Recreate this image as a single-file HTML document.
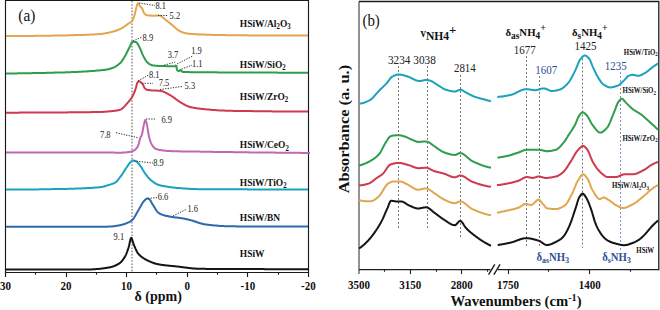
<!DOCTYPE html>
<html><head><meta charset="utf-8"><style>
html,body{margin:0;padding:0;background:#fff;width:660px;height:310px;overflow:hidden}
svg{display:block}
</style></head><body>
<svg width="660" height="310" viewBox="0 0 660 310">
<path d="M5.5 0.5 H308.5 V272.5 H5.5 Z" fill="none" stroke="#1a1a1a" stroke-width="1.15"/>
<line x1="5.5" y1="272.5" x2="5.5" y2="277.0" stroke="#1a1a1a" stroke-width="1.15"/>
<line x1="35.5" y1="272.5" x2="35.5" y2="274.7" stroke="#1a1a1a" stroke-width="1.15"/>
<line x1="66.5" y1="272.5" x2="66.5" y2="277.0" stroke="#1a1a1a" stroke-width="1.15"/>
<line x1="96.5" y1="272.5" x2="96.5" y2="274.7" stroke="#1a1a1a" stroke-width="1.15"/>
<line x1="126.5" y1="272.5" x2="126.5" y2="277.0" stroke="#1a1a1a" stroke-width="1.15"/>
<line x1="156.5" y1="272.5" x2="156.5" y2="274.7" stroke="#1a1a1a" stroke-width="1.15"/>
<line x1="187.5" y1="272.5" x2="187.5" y2="277.0" stroke="#1a1a1a" stroke-width="1.15"/>
<line x1="217.5" y1="272.5" x2="217.5" y2="274.7" stroke="#1a1a1a" stroke-width="1.15"/>
<line x1="247.5" y1="272.5" x2="247.5" y2="277.0" stroke="#1a1a1a" stroke-width="1.15"/>
<line x1="278.5" y1="272.5" x2="278.5" y2="274.7" stroke="#1a1a1a" stroke-width="1.15"/>
<line x1="308.5" y1="272.5" x2="308.5" y2="277.0" stroke="#1a1a1a" stroke-width="1.15"/>
<line x1="132.0" y1="1" x2="132.0" y2="272" stroke="#666" stroke-width="1.1" stroke-dasharray="1.6 1.6"/>
<path d="M6.0 36.0 L6.5 36.0 L7.0 36.0 L7.5 36.0 L8.0 36.0 L8.5 36.0 L9.0 36.0 L9.5 36.0 L10.0 36.0 L10.5 36.0 L11.0 36.0 L11.5 36.0 L12.0 36.0 L12.5 36.0 L13.0 36.0 L13.5 36.0 L14.0 36.0 L14.5 36.0 L15.0 36.0 L15.5 36.0 L16.0 36.0 L16.5 36.0 L17.0 36.0 L17.5 36.0 L18.0 36.0 L18.5 36.0 L19.0 36.0 L19.5 36.0 L20.0 36.0 L20.5 36.0 L21.0 36.0 L21.5 35.9 L22.0 35.9 L22.5 35.9 L23.0 35.9 L23.5 35.9 L24.0 35.9 L24.5 35.9 L25.0 35.9 L25.5 35.9 L26.0 35.9 L26.5 35.9 L27.0 35.9 L27.5 35.9 L28.0 35.9 L28.5 35.9 L29.0 35.9 L29.5 35.9 L30.0 35.9 L30.5 35.9 L31.0 35.9 L31.5 35.9 L32.0 35.9 L32.5 35.9 L33.0 35.9 L33.5 35.9 L34.0 35.9 L34.5 35.8 L35.0 35.8 L35.5 35.8 L36.0 35.8 L36.5 35.8 L37.0 35.8 L37.5 35.8 L38.0 35.8 L38.5 35.8 L39.0 35.8 L39.5 35.8 L40.0 35.8 L40.5 35.8 L41.0 35.8 L41.5 35.8 L42.0 35.8 L42.5 35.8 L43.0 35.8 L43.5 35.8 L44.0 35.8 L44.5 35.8 L45.0 35.7 L45.5 35.7 L46.0 35.7 L46.5 35.7 L47.0 35.7 L47.5 35.7 L48.0 35.7 L48.5 35.7 L49.0 35.7 L49.5 35.7 L50.0 35.7 L50.5 35.7 L51.0 35.7 L51.5 35.7 L52.0 35.7 L52.5 35.6 L53.0 35.6 L53.5 35.6 L54.0 35.6 L54.5 35.6 L55.0 35.6 L55.5 35.6 L56.0 35.6 L56.5 35.6 L57.0 35.6 L57.5 35.6 L58.0 35.5 L58.5 35.5 L59.0 35.5 L59.5 35.5 L60.0 35.5 L60.5 35.5 L61.0 35.5 L61.5 35.5 L62.0 35.5 L62.5 35.5 L63.0 35.4 L63.5 35.4 L64.0 35.4 L64.5 35.4 L65.0 35.4 L65.5 35.4 L66.0 35.4 L66.5 35.4 L67.0 35.4 L67.5 35.3 L68.0 35.3 L68.5 35.3 L69.0 35.3 L69.5 35.3 L70.0 35.3 L70.5 35.3 L71.0 35.3 L71.5 35.2 L72.0 35.2 L72.5 35.2 L73.0 35.2 L73.5 35.2 L74.0 35.2 L74.5 35.2 L75.0 35.1 L75.5 35.1 L76.0 35.1 L76.5 35.1 L77.0 35.1 L77.5 35.1 L78.0 35.1 L78.5 35.0 L79.0 35.0 L79.5 35.0 L80.0 35.0 L80.5 35.0 L81.0 35.0 L81.5 35.0 L82.0 34.9 L82.5 34.9 L83.0 34.9 L83.5 34.9 L84.0 34.9 L84.5 34.9 L85.0 34.8 L85.5 34.8 L86.0 34.8 L86.5 34.8 L87.0 34.8 L87.5 34.7 L88.0 34.7 L88.5 34.7 L89.0 34.7 L89.5 34.7 L90.0 34.6 L90.5 34.6 L91.0 34.6 L91.5 34.6 L92.0 34.5 L92.5 34.5 L93.0 34.5 L93.5 34.4 L94.0 34.4 L94.5 34.4 L95.0 34.4 L95.5 34.3 L96.0 34.3 L96.5 34.3 L97.0 34.2 L97.5 34.2 L98.0 34.2 L98.5 34.1 L99.0 34.1 L99.5 34.0 L100.0 34.0 L100.5 34.0 L101.0 33.9 L101.5 33.9 L102.0 33.8 L102.5 33.7 L103.0 33.7 L103.5 33.6 L104.0 33.5 L104.5 33.4 L105.0 33.4 L105.5 33.3 L106.0 33.2 L106.5 33.1 L107.0 33.0 L107.5 32.9 L108.0 32.8 L108.5 32.7 L109.0 32.6 L109.5 32.4 L110.0 32.3 L110.5 32.2 L111.0 32.1 L111.5 31.9 L112.0 31.8 L112.5 31.7 L113.0 31.6 L113.5 31.4 L114.0 31.3 L114.5 31.1 L115.0 31.0 L115.5 30.9 L116.0 30.7 L116.5 30.5 L117.0 30.3 L117.5 30.2 L118.0 30.0 L118.5 29.8 L119.0 29.5 L119.5 29.3 L120.0 29.1 L120.5 28.8 L121.0 28.6 L121.5 28.3 L122.0 28.1 L122.5 27.8 L123.0 27.5 L123.5 27.2 L124.0 26.9 L124.5 26.5 L125.0 26.1 L125.5 25.7 L126.0 25.3 L126.5 24.9 L127.0 24.6 L127.5 24.2 L128.0 23.8 L128.5 23.5 L129.0 23.2 L129.5 23.0 L130.0 22.7 L130.5 22.4 L131.0 22.0 L131.5 21.6 L132.0 21.1 L132.5 20.3 L133.0 19.2 L133.5 18.0 L134.0 16.7 L134.5 15.2 L135.0 13.2 L135.5 11.0 L136.0 8.8 L136.5 7.0 L137.0 5.3 L137.5 3.8 L138.0 3.2 L138.5 3.5 L139.0 4.3 L139.5 5.3 L140.0 6.2 L140.5 6.8 L141.0 7.3 L141.5 7.7 L142.0 8.3 L142.5 9.2 L143.0 10.5 L143.5 11.9 L144.0 12.9 L144.5 13.5 L145.0 14.1 L145.5 14.6 L146.0 15.0 L146.5 15.2 L147.0 15.3 L147.5 15.3 L148.0 15.4 L148.5 15.4 L149.0 15.5 L149.5 15.5 L150.0 15.6 L150.5 15.6 L151.0 15.6 L151.5 15.7 L152.0 15.7 L152.5 15.7 L153.0 15.7 L153.5 15.7 L154.0 15.7 L154.5 15.7 L155.0 15.7 L155.5 15.6 L156.0 15.6 L156.5 15.6 L157.0 15.6 L157.5 15.5 L158.0 15.5 L158.5 15.5 L159.0 15.5 L159.5 15.6 L160.0 15.7 L160.5 15.9 L161.0 16.1 L161.5 16.4 L162.0 16.8 L162.5 17.2 L163.0 17.6 L163.5 18.0 L164.0 18.4 L164.5 18.9 L165.0 19.3 L165.5 19.7 L166.0 20.1 L166.5 20.5 L167.0 20.9 L167.5 21.3 L168.0 21.7 L168.5 22.0 L169.0 22.4 L169.5 22.9 L170.0 23.3 L170.5 23.7 L171.0 24.1 L171.5 24.5 L172.0 24.9 L172.5 25.3 L173.0 25.7 L173.5 26.1 L174.0 26.6 L174.5 27.0 L175.0 27.5 L175.5 27.9 L176.0 28.4 L176.5 28.8 L177.0 29.3 L177.5 29.7 L178.0 30.1 L178.5 30.4 L179.0 30.7 L179.5 31.0 L180.0 31.2 L180.5 31.5 L181.0 31.7 L181.5 31.9 L182.0 32.1 L182.5 32.3 L183.0 32.5 L183.5 32.7 L184.0 32.8 L184.5 33.0 L185.0 33.1 L185.5 33.2 L186.0 33.3 L186.5 33.4 L187.0 33.5 L187.5 33.5 L188.0 33.6 L188.5 33.7 L189.0 33.7 L189.5 33.8 L190.0 33.8 L190.5 33.9 L191.0 33.9 L191.5 34.0 L192.0 34.0 L192.5 34.0 L193.0 34.1 L193.5 34.1 L194.0 34.1 L194.5 34.2 L195.0 34.2 L195.5 34.2 L196.0 34.2 L196.5 34.3 L197.0 34.3 L197.5 34.3 L198.0 34.3 L198.5 34.4 L199.0 34.4 L199.5 34.4 L200.0 34.4 L200.5 34.5 L201.0 34.5 L201.5 34.5 L202.0 34.5 L202.5 34.5 L203.0 34.6 L203.5 34.6 L204.0 34.6 L204.5 34.6 L205.0 34.6 L205.5 34.7 L206.0 34.7 L206.5 34.7 L207.0 34.7 L207.5 34.7 L208.0 34.7 L208.5 34.8 L209.0 34.8 L209.5 34.8 L210.0 34.8 L210.5 34.8 L211.0 34.8 L211.5 34.8 L212.0 34.9 L212.5 34.9 L213.0 34.9 L213.5 34.9 L214.0 34.9 L214.5 34.9 L215.0 34.9 L215.5 35.0 L216.0 35.0 L216.5 35.0 L217.0 35.0 L217.5 35.0 L218.0 35.0 L218.5 35.0 L219.0 35.0 L219.5 35.0 L220.0 35.1 L220.5 35.1 L221.0 35.1 L221.5 35.1 L222.0 35.1 L222.5 35.1 L223.0 35.1 L223.5 35.1 L224.0 35.1 L224.5 35.1 L225.0 35.1 L225.5 35.1 L226.0 35.2 L226.5 35.2 L227.0 35.2 L227.5 35.2 L228.0 35.2 L228.5 35.2 L229.0 35.2 L229.5 35.2 L230.0 35.2 L230.5 35.2 L231.0 35.2 L231.5 35.2 L232.0 35.2 L232.5 35.2 L233.0 35.2 L233.5 35.2 L234.0 35.2 L234.5 35.2 L235.0 35.2 L235.5 35.3 L236.0 35.3 L236.5 35.3 L237.0 35.3 L237.5 35.3 L238.0 35.3 L238.5 35.3 L239.0 35.3 L239.5 35.3 L240.0 35.3 L240.5 35.3 L241.0 35.3 L241.5 35.3 L242.0 35.3 L242.5 35.3 L243.0 35.3 L243.5 35.3 L244.0 35.3 L244.5 35.3 L245.0 35.3 L245.5 35.3 L246.0 35.3 L246.5 35.3 L247.0 35.3 L247.5 35.4 L248.0 35.4 L248.5 35.4 L249.0 35.4 L249.5 35.4 L250.0 35.4 L250.5 35.4 L251.0 35.4 L251.5 35.4 L252.0 35.4 L252.5 35.4 L253.0 35.4 L253.5 35.4 L254.0 35.4 L254.5 35.4 L255.0 35.4 L255.5 35.4 L256.0 35.4 L256.5 35.4 L257.0 35.4 L257.5 35.4 L258.0 35.4 L258.5 35.4 L259.0 35.4 L259.5 35.4 L260.0 35.4 L260.5 35.4 L261.0 35.4 L261.5 35.4 L262.0 35.5 L262.5 35.5 L263.0 35.5 L263.5 35.5 L264.0 35.5 L264.5 35.5 L265.0 35.5 L265.5 35.5 L266.0 35.5 L266.5 35.5 L267.0 35.5 L267.5 35.5 L268.0 35.5 L268.5 35.5 L269.0 35.5 L269.5 35.5 L270.0 35.5 L270.5 35.5 L271.0 35.5 L271.5 35.5 L272.0 35.5 L272.5 35.5 L273.0 35.5 L273.5 35.5 L274.0 35.5 L274.5 35.5 L275.0 35.5 L275.5 35.5 L276.0 35.5 L276.5 35.5 L277.0 35.5 L277.5 35.5 L278.0 35.5 L278.5 35.5 L279.0 35.5 L279.5 35.5 L280.0 35.5 L280.5 35.5 L281.0 35.5 L281.5 35.5 L282.0 35.6 L282.5 35.6 L283.0 35.6 L283.5 35.6 L284.0 35.6 L284.5 35.6 L285.0 35.6 L285.5 35.6 L286.0 35.6 L286.5 35.6 L287.0 35.6 L287.5 35.6 L288.0 35.6 L288.5 35.6 L289.0 35.6 L289.5 35.6 L290.0 35.6 L290.5 35.6 L291.0 35.6 L291.5 35.6 L292.0 35.6 L292.5 35.6 L293.0 35.6 L293.5 35.6 L294.0 35.6 L294.5 35.6 L295.0 35.6 L295.5 35.6 L296.0 35.6 L296.5 35.6 L297.0 35.6 L297.5 35.6 L298.0 35.6 L298.5 35.6 L299.0 35.6 L299.5 35.6 L300.0 35.6 L300.5 35.6 L301.0 35.6 L301.5 35.6 L302.0 35.6 L302.5 35.6 L303.0 35.6 L303.5 35.6 L304.0 35.6 L304.5 35.6 L305.0 35.6 L305.5 35.6 L306.0 35.6 L306.5 35.6 L307.0 35.6 L307.5 35.6 L308.0 35.6" fill="none" stroke="#E2A650" stroke-width="2" stroke-linejoin="round"/>
<path d="M6.0 73.4 L6.5 73.4 L7.0 73.4 L7.5 73.4 L8.0 73.4 L8.5 73.4 L9.0 73.4 L9.5 73.4 L10.0 73.4 L10.5 73.4 L11.0 73.4 L11.5 73.4 L12.0 73.4 L12.5 73.4 L13.0 73.4 L13.5 73.4 L14.0 73.4 L14.5 73.4 L15.0 73.4 L15.5 73.4 L16.0 73.4 L16.5 73.4 L17.0 73.4 L17.5 73.3 L18.0 73.3 L18.5 73.3 L19.0 73.3 L19.5 73.3 L20.0 73.3 L20.5 73.3 L21.0 73.3 L21.5 73.3 L22.0 73.3 L22.5 73.3 L23.0 73.3 L23.5 73.3 L24.0 73.3 L24.5 73.3 L25.0 73.3 L25.5 73.3 L26.0 73.2 L26.5 73.2 L27.0 73.2 L27.5 73.2 L28.0 73.2 L28.5 73.2 L29.0 73.2 L29.5 73.2 L30.0 73.2 L30.5 73.2 L31.0 73.2 L31.5 73.2 L32.0 73.1 L32.5 73.1 L33.0 73.1 L33.5 73.1 L34.0 73.1 L34.5 73.1 L35.0 73.1 L35.5 73.1 L36.0 73.1 L36.5 73.1 L37.0 73.1 L37.5 73.0 L38.0 73.0 L38.5 73.0 L39.0 73.0 L39.5 73.0 L40.0 73.0 L40.5 73.0 L41.0 73.0 L41.5 73.0 L42.0 72.9 L42.5 72.9 L43.0 72.9 L43.5 72.9 L44.0 72.9 L44.5 72.9 L45.0 72.9 L45.5 72.9 L46.0 72.9 L46.5 72.8 L47.0 72.8 L47.5 72.8 L48.0 72.8 L48.5 72.8 L49.0 72.8 L49.5 72.8 L50.0 72.8 L50.5 72.7 L51.0 72.7 L51.5 72.7 L52.0 72.7 L52.5 72.7 L53.0 72.7 L53.5 72.7 L54.0 72.7 L54.5 72.6 L55.0 72.6 L55.5 72.6 L56.0 72.6 L56.5 72.6 L57.0 72.6 L57.5 72.6 L58.0 72.6 L58.5 72.5 L59.0 72.5 L59.5 72.5 L60.0 72.5 L60.5 72.5 L61.0 72.5 L61.5 72.5 L62.0 72.4 L62.5 72.4 L63.0 72.4 L63.5 72.4 L64.0 72.4 L64.5 72.4 L65.0 72.4 L65.5 72.3 L66.0 72.3 L66.5 72.3 L67.0 72.3 L67.5 72.3 L68.0 72.3 L68.5 72.2 L69.0 72.2 L69.5 72.2 L70.0 72.2 L70.5 72.2 L71.0 72.2 L71.5 72.1 L72.0 72.1 L72.5 72.1 L73.0 72.1 L73.5 72.1 L74.0 72.0 L74.5 72.0 L75.0 72.0 L75.5 72.0 L76.0 72.0 L76.5 71.9 L77.0 71.9 L77.5 71.9 L78.0 71.9 L78.5 71.8 L79.0 71.8 L79.5 71.8 L80.0 71.8 L80.5 71.7 L81.0 71.7 L81.5 71.7 L82.0 71.7 L82.5 71.6 L83.0 71.6 L83.5 71.6 L84.0 71.5 L84.5 71.5 L85.0 71.5 L85.5 71.5 L86.0 71.4 L86.5 71.4 L87.0 71.4 L87.5 71.3 L88.0 71.3 L88.5 71.3 L89.0 71.2 L89.5 71.2 L90.0 71.2 L90.5 71.1 L91.0 71.1 L91.5 71.1 L92.0 71.0 L92.5 71.0 L93.0 70.9 L93.5 70.9 L94.0 70.9 L94.5 70.8 L95.0 70.8 L95.5 70.7 L96.0 70.7 L96.5 70.6 L97.0 70.6 L97.5 70.6 L98.0 70.5 L98.5 70.5 L99.0 70.4 L99.5 70.4 L100.0 70.3 L100.5 70.3 L101.0 70.2 L101.5 70.2 L102.0 70.1 L102.5 70.1 L103.0 70.0 L103.5 70.0 L104.0 69.9 L104.5 69.9 L105.0 69.8 L105.5 69.7 L106.0 69.7 L106.5 69.6 L107.0 69.5 L107.5 69.4 L108.0 69.3 L108.5 69.2 L109.0 69.0 L109.5 68.9 L110.0 68.8 L110.5 68.6 L111.0 68.5 L111.5 68.3 L112.0 68.1 L112.5 68.0 L113.0 67.8 L113.5 67.6 L114.0 67.4 L114.5 67.1 L115.0 66.9 L115.5 66.6 L116.0 66.3 L116.5 65.9 L117.0 65.6 L117.5 65.2 L118.0 64.9 L118.5 64.5 L119.0 64.0 L119.5 63.6 L120.0 63.2 L120.5 62.7 L121.0 62.2 L121.5 61.6 L122.0 60.9 L122.5 60.2 L123.0 59.4 L123.5 58.6 L124.0 57.8 L124.5 56.9 L125.0 56.0 L125.5 55.2 L126.0 54.3 L126.5 53.3 L127.0 52.3 L127.5 51.3 L128.0 50.3 L128.5 49.3 L129.0 48.3 L129.5 47.3 L130.0 46.3 L130.5 45.1 L131.0 44.0 L131.5 43.0 L132.0 42.2 L132.5 41.7 L133.0 41.7 L133.5 41.7 L134.0 41.8 L134.5 41.8 L135.0 41.9 L135.5 42.0 L136.0 42.1 L136.5 42.4 L137.0 42.9 L137.5 43.6 L138.0 44.4 L138.5 45.3 L139.0 46.2 L139.5 47.2 L140.0 48.2 L140.5 49.4 L141.0 50.6 L141.5 51.9 L142.0 53.2 L142.5 54.4 L143.0 55.4 L143.5 56.4 L144.0 57.3 L144.5 58.2 L145.0 59.1 L145.5 60.0 L146.0 60.7 L146.5 61.5 L147.0 62.1 L147.5 62.6 L148.0 63.0 L148.5 63.4 L149.0 63.8 L149.5 64.1 L150.0 64.4 L150.5 64.6 L151.0 64.8 L151.5 65.0 L152.0 65.2 L152.5 65.3 L153.0 65.4 L153.5 65.5 L154.0 65.6 L154.5 65.6 L155.0 65.7 L155.5 65.7 L156.0 65.8 L156.5 65.8 L157.0 65.8 L157.5 65.8 L158.0 65.9 L158.5 65.9 L159.0 65.9 L159.5 65.9 L160.0 65.9 L160.5 66.0 L161.0 66.0 L161.5 66.0 L162.0 66.0 L162.5 66.0 L163.0 66.0 L163.5 66.1 L164.0 66.1 L164.5 66.1 L165.0 66.1 L165.5 66.1 L166.0 66.1 L166.5 66.2 L167.0 66.2 L167.5 66.2 L168.0 66.2 L168.5 66.2 L169.0 66.2 L169.5 66.2 L170.0 66.2 L170.5 66.3 L171.0 66.3 L171.5 66.3 L172.0 66.3 L172.5 66.3 L173.0 66.3 L173.5 66.3 L174.0 66.3 L174.5 66.3 L175.0 66.2 L175.5 65.8 L176.0 65.4 L176.3 65.2" fill="none" stroke="#2E9D4E" stroke-width="2" stroke-linejoin="round"/>
<path d="M176.3 65.2 L176.8 69.2 L177.3 70.4 L177.8 70.7 L178.3 70.9 L178.8 71.0 L179.3 70.9 L179.8 70.3 L180.3 70.0 L180.8 70.2 L181.3 70.7 L181.8 71.2 L182.3 71.7 L182.8 72.0 L183.3 72.0 L183.8 72.0 L184.3 72.0 L184.8 72.1 L185.3 72.1 L185.8 72.1 L186.3 72.1 L186.8 72.1 L187.3 72.1 L187.8 72.1 L188.3 72.1 L188.8 72.1 L189.3 72.1 L189.8 72.2 L190.3 72.2 L190.8 72.2 L191.3 72.2 L191.8 72.2 L192.3 72.2 L192.8 72.2 L193.3 72.2 L193.8 72.2 L194.3 72.2 L194.8 72.2 L195.3 72.2 L195.8 72.2 L196.3 72.2 L196.8 72.2 L197.3 72.2 L197.8 72.2 L198.3 72.2 L198.8 72.2 L199.3 72.2 L199.8 72.2 L200.3 72.3 L200.8 72.3 L201.3 72.3 L201.8 72.3 L202.3 72.3 L202.8 72.3 L203.3 72.3 L203.8 72.3 L204.3 72.3 L204.8 72.3 L205.3 72.3 L205.8 72.3 L206.3 72.3 L206.8 72.3 L207.3 72.3 L207.8 72.3 L208.3 72.3 L208.8 72.3 L209.3 72.3 L209.8 72.3 L210.3 72.3 L210.8 72.3 L211.3 72.3 L211.8 72.3 L212.3 72.3 L212.8 72.3 L213.3 72.3 L213.8 72.3 L214.3 72.3 L214.8 72.3 L215.3 72.3 L215.8 72.3 L216.3 72.3 L216.8 72.3 L217.3 72.3 L217.8 72.4 L218.3 72.4 L218.8 72.4 L219.3 72.4 L219.8 72.4 L220.3 72.4 L220.8 72.4 L221.3 72.4 L221.8 72.4 L222.3 72.4 L222.8 72.4 L223.3 72.4 L223.8 72.4 L224.3 72.4 L224.8 72.4 L225.3 72.4 L225.8 72.4 L226.3 72.4 L226.8 72.4 L227.3 72.4 L227.8 72.4 L228.3 72.4 L228.8 72.4 L229.3 72.4 L229.8 72.4 L230.3 72.4 L230.8 72.4 L231.3 72.4 L231.8 72.4 L232.3 72.4 L232.8 72.4 L233.3 72.4 L233.8 72.4 L234.3 72.5 L234.8 72.5 L235.3 72.5 L235.8 72.5 L236.3 72.5 L236.8 72.5 L237.3 72.5 L237.8 72.5 L238.3 72.5 L238.8 72.5 L239.3 72.5 L239.8 72.5 L240.3 72.5 L240.8 72.5 L241.3 72.5 L241.8 72.5 L242.3 72.5 L242.8 72.5 L243.3 72.5 L243.8 72.5 L244.3 72.5 L244.8 72.5 L245.3 72.5 L245.8 72.5 L246.3 72.5 L246.8 72.5 L247.3 72.5 L247.8 72.5 L248.3 72.5 L248.8 72.5 L249.3 72.5 L249.8 72.5 L250.3 72.5 L250.8 72.5 L251.3 72.5 L251.8 72.5 L252.3 72.5 L252.8 72.6 L253.3 72.6 L253.8 72.6 L254.3 72.6 L254.8 72.6 L255.3 72.6 L255.8 72.6 L256.3 72.6 L256.8 72.6 L257.3 72.6 L257.8 72.6 L258.3 72.6 L258.8 72.6 L259.3 72.6 L259.8 72.6 L260.3 72.6 L260.8 72.6 L261.3 72.6 L261.8 72.6 L262.3 72.6 L262.8 72.6 L263.3 72.6 L263.8 72.6 L264.3 72.6 L264.8 72.6 L265.3 72.6 L265.8 72.6 L266.3 72.6 L266.8 72.6 L267.3 72.6 L267.8 72.6 L268.3 72.6 L268.8 72.6 L269.3 72.6 L269.8 72.6 L270.3 72.6 L270.8 72.6 L271.3 72.6 L271.8 72.6 L272.3 72.6 L272.8 72.6 L273.3 72.6 L273.8 72.6 L274.3 72.6 L274.8 72.6 L275.3 72.6 L275.8 72.6 L276.3 72.6 L276.8 72.6 L277.3 72.6 L277.8 72.7 L278.3 72.7 L278.8 72.7 L279.3 72.7 L279.8 72.7 L280.3 72.7 L280.8 72.7 L281.3 72.7 L281.8 72.7 L282.3 72.7 L282.8 72.7 L283.3 72.7 L283.8 72.7 L284.3 72.7 L284.8 72.7 L285.3 72.7 L285.8 72.7 L286.3 72.7 L286.8 72.7 L287.3 72.7 L287.8 72.7 L288.3 72.7 L288.8 72.7 L289.3 72.7 L289.8 72.7 L290.3 72.7 L290.8 72.7 L291.3 72.7 L291.8 72.7 L292.3 72.7 L292.8 72.7 L293.3 72.7 L293.8 72.7 L294.3 72.7 L294.8 72.7 L295.3 72.7 L295.8 72.7 L296.3 72.7 L296.8 72.7 L297.3 72.7 L297.8 72.7 L298.3 72.7 L298.8 72.7 L299.3 72.7 L299.8 72.7 L300.3 72.7 L300.8 72.7 L301.3 72.7 L301.8 72.7 L302.3 72.7 L302.8 72.7 L303.3 72.7 L303.8 72.7 L304.3 72.7 L304.8 72.7 L305.3 72.7 L305.8 72.7 L306.3 72.7 L306.8 72.7 L307.3 72.7 L307.8 72.7 L308.0 72.7" fill="none" stroke="#2E9D4E" stroke-width="2" stroke-linejoin="round"/>
<path d="M6.0 112.7 L6.5 112.7 L7.0 112.7 L7.5 112.7 L8.0 112.7 L8.5 112.7 L9.0 112.7 L9.5 112.7 L10.0 112.7 L10.5 112.7 L11.0 112.7 L11.5 112.7 L12.0 112.7 L12.5 112.7 L13.0 112.7 L13.5 112.7 L14.0 112.7 L14.5 112.7 L15.0 112.7 L15.5 112.7 L16.0 112.7 L16.5 112.7 L17.0 112.7 L17.5 112.7 L18.0 112.7 L18.5 112.7 L19.0 112.7 L19.5 112.6 L20.0 112.6 L20.5 112.6 L21.0 112.6 L21.5 112.6 L22.0 112.6 L22.5 112.6 L23.0 112.6 L23.5 112.6 L24.0 112.6 L24.5 112.6 L25.0 112.6 L25.5 112.6 L26.0 112.6 L26.5 112.6 L27.0 112.6 L27.5 112.6 L28.0 112.6 L28.5 112.6 L29.0 112.6 L29.5 112.6 L30.0 112.6 L30.5 112.6 L31.0 112.6 L31.5 112.6 L32.0 112.6 L32.5 112.6 L33.0 112.6 L33.5 112.6 L34.0 112.6 L34.5 112.6 L35.0 112.6 L35.5 112.6 L36.0 112.6 L36.5 112.6 L37.0 112.6 L37.5 112.6 L38.0 112.5 L38.5 112.5 L39.0 112.5 L39.5 112.5 L40.0 112.5 L40.5 112.5 L41.0 112.5 L41.5 112.5 L42.0 112.5 L42.5 112.5 L43.0 112.5 L43.5 112.5 L44.0 112.5 L44.5 112.5 L45.0 112.5 L45.5 112.5 L46.0 112.5 L46.5 112.5 L47.0 112.5 L47.5 112.5 L48.0 112.5 L48.5 112.5 L49.0 112.5 L49.5 112.5 L50.0 112.5 L50.5 112.5 L51.0 112.5 L51.5 112.5 L52.0 112.5 L52.5 112.5 L53.0 112.4 L53.5 112.4 L54.0 112.4 L54.5 112.4 L55.0 112.4 L55.5 112.4 L56.0 112.4 L56.5 112.4 L57.0 112.4 L57.5 112.4 L58.0 112.4 L58.5 112.4 L59.0 112.4 L59.5 112.4 L60.0 112.4 L60.5 112.4 L61.0 112.4 L61.5 112.4 L62.0 112.4 L62.5 112.4 L63.0 112.4 L63.5 112.4 L64.0 112.4 L64.5 112.4 L65.0 112.4 L65.5 112.4 L66.0 112.4 L66.5 112.4 L67.0 112.4 L67.5 112.4 L68.0 112.3 L68.5 112.3 L69.0 112.3 L69.5 112.3 L70.0 112.3 L70.5 112.3 L71.0 112.3 L71.5 112.3 L72.0 112.3 L72.5 112.3 L73.0 112.3 L73.5 112.3 L74.0 112.3 L74.5 112.3 L75.0 112.3 L75.5 112.3 L76.0 112.3 L76.5 112.3 L77.0 112.3 L77.5 112.3 L78.0 112.3 L78.5 112.3 L79.0 112.3 L79.5 112.3 L80.0 112.3 L80.5 112.3 L81.0 112.3 L81.5 112.3 L82.0 112.2 L82.5 112.2 L83.0 112.2 L83.5 112.2 L84.0 112.2 L84.5 112.2 L85.0 112.2 L85.5 112.2 L86.0 112.2 L86.5 112.2 L87.0 112.2 L87.5 112.2 L88.0 112.2 L88.5 112.2 L89.0 112.2 L89.5 112.2 L90.0 112.2 L90.5 112.2 L91.0 112.2 L91.5 112.1 L92.0 112.1 L92.5 112.1 L93.0 112.1 L93.5 112.1 L94.0 112.1 L94.5 112.1 L95.0 112.1 L95.5 112.1 L96.0 112.1 L96.5 112.1 L97.0 112.1 L97.5 112.0 L98.0 112.0 L98.5 112.0 L99.0 112.0 L99.5 112.0 L100.0 112.0 L100.5 112.0 L101.0 112.0 L101.5 112.0 L102.0 111.9 L102.5 111.9 L103.0 111.9 L103.5 111.8 L104.0 111.8 L104.5 111.8 L105.0 111.7 L105.5 111.7 L106.0 111.7 L106.5 111.6 L107.0 111.6 L107.5 111.5 L108.0 111.5 L108.5 111.4 L109.0 111.4 L109.5 111.3 L110.0 111.3 L110.5 111.3 L111.0 111.2 L111.5 111.2 L112.0 111.1 L112.5 111.1 L113.0 111.0 L113.5 110.9 L114.0 110.9 L114.5 110.8 L115.0 110.8 L115.5 110.7 L116.0 110.6 L116.5 110.5 L117.0 110.5 L117.5 110.4 L118.0 110.3 L118.5 110.2 L119.0 110.0 L119.5 109.9 L120.0 109.8 L120.5 109.6 L121.0 109.4 L121.5 109.1 L122.0 108.7 L122.5 108.3 L123.0 107.9 L123.5 107.4 L124.0 106.9 L124.5 106.4 L125.0 105.8 L125.5 105.2 L126.0 104.7 L126.5 104.1 L127.0 103.5 L127.5 102.9 L128.0 102.4 L128.5 101.8 L129.0 101.2 L129.5 100.6 L130.0 100.0 L130.5 99.3 L131.0 98.6 L131.5 97.9 L132.0 97.1 L132.5 96.3 L133.0 95.4 L133.5 94.4 L134.0 93.2 L134.5 92.0 L135.0 90.6 L135.5 89.2 L136.0 87.5 L136.5 85.5 L137.0 83.7 L137.5 82.5 L138.0 81.7 L138.5 81.3 L139.0 81.2 L139.5 81.4 L140.0 81.7 L140.5 82.1 L141.0 82.5 L141.5 82.9 L142.0 83.4 L142.5 84.0 L143.0 84.7 L143.5 85.7 L144.0 87.0 L144.5 87.9 L145.0 88.4 L145.5 88.9 L146.0 89.3 L146.5 89.6 L147.0 89.8 L147.5 89.9 L148.0 90.0 L148.5 90.1 L149.0 90.1 L149.5 90.2 L150.0 90.2 L150.5 90.3 L151.0 90.3 L151.5 90.4 L152.0 90.4 L152.5 90.4 L153.0 90.5 L153.5 90.5 L154.0 90.5 L154.5 90.6 L155.0 90.6 L155.5 90.6 L156.0 90.6 L156.5 90.6 L157.0 90.6 L157.5 90.7 L158.0 90.7 L158.5 90.7 L159.0 90.7 L159.5 90.8 L160.0 90.8 L160.5 90.9 L161.0 90.9 L161.5 91.0 L162.0 91.2 L162.5 91.3 L163.0 91.5 L163.5 91.7 L164.0 91.9 L164.5 92.1 L165.0 92.4 L165.5 92.6 L166.0 92.9 L166.5 93.2 L167.0 93.4 L167.5 93.7 L168.0 94.0 L168.5 94.3 L169.0 94.5 L169.5 94.8 L170.0 95.1 L170.5 95.4 L171.0 95.6 L171.5 96.0 L172.0 96.3 L172.5 96.6 L173.0 97.0 L173.5 97.3 L174.0 97.7 L174.5 98.0 L175.0 98.4 L175.5 98.8 L176.0 99.2 L176.5 99.6 L177.0 99.9 L177.5 100.3 L178.0 100.7 L178.5 101.0 L179.0 101.4 L179.5 101.7 L180.0 102.0 L180.5 102.3 L181.0 102.6 L181.5 102.9 L182.0 103.2 L182.5 103.5 L183.0 103.8 L183.5 104.1 L184.0 104.3 L184.5 104.6 L185.0 104.9 L185.5 105.2 L186.0 105.4 L186.5 105.7 L187.0 105.9 L187.5 106.1 L188.0 106.3 L188.5 106.5 L189.0 106.7 L189.5 106.8 L190.0 106.9 L190.5 107.1 L191.0 107.2 L191.5 107.3 L192.0 107.4 L192.5 107.5 L193.0 107.6 L193.5 107.7 L194.0 107.8 L194.5 107.9 L195.0 108.0 L195.5 108.1 L196.0 108.2 L196.5 108.2 L197.0 108.3 L197.5 108.4 L198.0 108.5 L198.5 108.5 L199.0 108.6 L199.5 108.6 L200.0 108.7 L200.5 108.8 L201.0 108.8 L201.5 108.9 L202.0 108.9 L202.5 109.0 L203.0 109.0 L203.5 109.1 L204.0 109.1 L204.5 109.2 L205.0 109.2 L205.5 109.3 L206.0 109.3 L206.5 109.4 L207.0 109.4 L207.5 109.5 L208.0 109.5 L208.5 109.6 L209.0 109.6 L209.5 109.6 L210.0 109.7 L210.5 109.7 L211.0 109.8 L211.5 109.8 L212.0 109.9 L212.5 109.9 L213.0 109.9 L213.5 110.0 L214.0 110.0 L214.5 110.1 L215.0 110.1 L215.5 110.1 L216.0 110.2 L216.5 110.2 L217.0 110.2 L217.5 110.3 L218.0 110.3 L218.5 110.3 L219.0 110.4 L219.5 110.4 L220.0 110.4 L220.5 110.4 L221.0 110.5 L221.5 110.5 L222.0 110.5 L222.5 110.5 L223.0 110.6 L223.5 110.6 L224.0 110.6 L224.5 110.6 L225.0 110.7 L225.5 110.7 L226.0 110.7 L226.5 110.7 L227.0 110.7 L227.5 110.7 L228.0 110.8 L228.5 110.8 L229.0 110.8 L229.5 110.8 L230.0 110.8 L230.5 110.8 L231.0 110.8 L231.5 110.8 L232.0 110.8 L232.5 110.8 L233.0 110.9 L233.5 110.9 L234.0 110.9 L234.5 110.9 L235.0 110.9 L235.5 110.9 L236.0 110.9 L236.5 110.9 L237.0 110.9 L237.5 110.9 L238.0 110.9 L238.5 110.9 L239.0 111.0 L239.5 111.0 L240.0 111.0 L240.5 111.0 L241.0 111.0 L241.5 111.0 L242.0 111.0 L242.5 111.0 L243.0 111.0 L243.5 111.0 L244.0 111.0 L244.5 111.0 L245.0 111.0 L245.5 111.1 L246.0 111.1 L246.5 111.1 L247.0 111.1 L247.5 111.1 L248.0 111.1 L248.5 111.1 L249.0 111.1 L249.5 111.1 L250.0 111.1 L250.5 111.1 L251.0 111.1 L251.5 111.1 L252.0 111.1 L252.5 111.1 L253.0 111.2 L253.5 111.2 L254.0 111.2 L254.5 111.2 L255.0 111.2 L255.5 111.2 L256.0 111.2 L256.5 111.2 L257.0 111.2 L257.5 111.2 L258.0 111.2 L258.5 111.2 L259.0 111.2 L259.5 111.2 L260.0 111.2 L260.5 111.2 L261.0 111.2 L261.5 111.3 L262.0 111.3 L262.5 111.3 L263.0 111.3 L263.5 111.3 L264.0 111.3 L264.5 111.3 L265.0 111.3 L265.5 111.3 L266.0 111.3 L266.5 111.3 L267.0 111.3 L267.5 111.3 L268.0 111.3 L268.5 111.3 L269.0 111.3 L269.5 111.3 L270.0 111.3 L270.5 111.3 L271.0 111.3 L271.5 111.3 L272.0 111.4 L272.5 111.4 L273.0 111.4 L273.5 111.4 L274.0 111.4 L274.5 111.4 L275.0 111.4 L275.5 111.4 L276.0 111.4 L276.5 111.4 L277.0 111.4 L277.5 111.4 L278.0 111.4 L278.5 111.4 L279.0 111.4 L279.5 111.4 L280.0 111.4 L280.5 111.4 L281.0 111.4 L281.5 111.4 L282.0 111.4 L282.5 111.4 L283.0 111.4 L283.5 111.4 L284.0 111.4 L284.5 111.4 L285.0 111.4 L285.5 111.4 L286.0 111.4 L286.5 111.4 L287.0 111.4 L287.5 111.5 L288.0 111.5 L288.5 111.5 L289.0 111.5 L289.5 111.5 L290.0 111.5 L290.5 111.5 L291.0 111.5 L291.5 111.5 L292.0 111.5 L292.5 111.5 L293.0 111.5 L293.5 111.5 L294.0 111.5 L294.5 111.5 L295.0 111.5 L295.5 111.5 L296.0 111.5 L296.5 111.5 L297.0 111.5 L297.5 111.5 L298.0 111.5 L298.5 111.5 L299.0 111.5 L299.5 111.5 L300.0 111.5 L300.5 111.5 L301.0 111.5 L301.5 111.5 L302.0 111.5 L302.5 111.5 L303.0 111.5 L303.5 111.5 L304.0 111.5 L304.5 111.5 L305.0 111.5 L305.5 111.5 L306.0 111.5 L306.5 111.5 L307.0 111.5 L307.5 111.5 L308.0 111.5" fill="none" stroke="#CF3A4E" stroke-width="2" stroke-linejoin="round"/>
<path d="M6.0 152.4 L6.5 152.4 L7.0 152.4 L7.5 152.4 L8.0 152.4 L8.5 152.4 L9.0 152.4 L9.5 152.4 L10.0 152.4 L10.5 152.4 L11.0 152.4 L11.5 152.4 L12.0 152.4 L12.5 152.4 L13.0 152.4 L13.5 152.4 L14.0 152.4 L14.5 152.4 L15.0 152.4 L15.5 152.4 L16.0 152.4 L16.5 152.4 L17.0 152.4 L17.5 152.4 L18.0 152.4 L18.5 152.4 L19.0 152.4 L19.5 152.4 L20.0 152.4 L20.5 152.4 L21.0 152.4 L21.5 152.4 L22.0 152.4 L22.5 152.4 L23.0 152.4 L23.5 152.4 L24.0 152.4 L24.5 152.4 L25.0 152.4 L25.5 152.4 L26.0 152.4 L26.5 152.4 L27.0 152.4 L27.5 152.4 L28.0 152.4 L28.5 152.4 L29.0 152.4 L29.5 152.4 L30.0 152.4 L30.5 152.4 L31.0 152.4 L31.5 152.4 L32.0 152.4 L32.5 152.4 L33.0 152.4 L33.5 152.4 L34.0 152.5 L34.5 152.5 L35.0 152.5 L35.5 152.5 L36.0 152.5 L36.5 152.5 L37.0 152.5 L37.5 152.5 L38.0 152.5 L38.5 152.5 L39.0 152.5 L39.5 152.5 L40.0 152.5 L40.5 152.5 L41.0 152.5 L41.5 152.5 L42.0 152.5 L42.5 152.5 L43.0 152.5 L43.5 152.5 L44.0 152.5 L44.5 152.5 L45.0 152.5 L45.5 152.5 L46.0 152.5 L46.5 152.5 L47.0 152.5 L47.5 152.5 L48.0 152.5 L48.5 152.5 L49.0 152.5 L49.5 152.5 L50.0 152.5 L50.5 152.5 L51.0 152.5 L51.5 152.5 L52.0 152.5 L52.5 152.5 L53.0 152.5 L53.5 152.5 L54.0 152.5 L54.5 152.5 L55.0 152.5 L55.5 152.5 L56.0 152.5 L56.5 152.5 L57.0 152.5 L57.5 152.5 L58.0 152.5 L58.5 152.5 L59.0 152.5 L59.5 152.5 L60.0 152.5 L60.5 152.5 L61.0 152.5 L61.5 152.5 L62.0 152.5 L62.5 152.5 L63.0 152.5 L63.5 152.5 L64.0 152.5 L64.5 152.5 L65.0 152.5 L65.5 152.5 L66.0 152.5 L66.5 152.5 L67.0 152.5 L67.5 152.5 L68.0 152.5 L68.5 152.5 L69.0 152.5 L69.5 152.5 L70.0 152.5 L70.5 152.5 L71.0 152.5 L71.5 152.5 L72.0 152.5 L72.5 152.5 L73.0 152.5 L73.5 152.5 L74.0 152.5 L74.5 152.5 L75.0 152.5 L75.5 152.5 L76.0 152.5 L76.5 152.5 L77.0 152.5 L77.5 152.5 L78.0 152.5 L78.5 152.5 L79.0 152.5 L79.5 152.5 L80.0 152.5 L80.5 152.5 L81.0 152.5 L81.5 152.5 L82.0 152.5 L82.5 152.5 L83.0 152.5 L83.5 152.5 L84.0 152.5 L84.5 152.5 L85.0 152.5 L85.5 152.5 L86.0 152.5 L86.5 152.5 L87.0 152.5 L87.5 152.5 L88.0 152.5 L88.5 152.5 L89.0 152.5 L89.5 152.5 L90.0 152.5 L90.5 152.5 L91.0 152.5 L91.5 152.5 L92.0 152.5 L92.5 152.6 L93.0 152.6 L93.5 152.6 L94.0 152.6 L94.5 152.6 L95.0 152.6 L95.5 152.6 L96.0 152.6 L96.5 152.6 L97.0 152.6 L97.5 152.6 L98.0 152.6 L98.5 152.6 L99.0 152.6 L99.5 152.6 L100.0 152.6 L100.5 152.6 L101.0 152.6 L101.5 152.6 L102.0 152.6 L102.5 152.6 L103.0 152.6 L103.5 152.6 L104.0 152.6 L104.5 152.6 L105.0 152.6 L105.5 152.6 L106.0 152.6 L106.5 152.6 L107.0 152.6 L107.5 152.6 L108.0 152.6 L108.5 152.6 L109.0 152.6 L109.5 152.6 L110.0 152.6 L110.5 152.6 L111.0 152.6 L111.5 152.6 L112.0 152.6 L112.5 152.6 L113.0 152.6 L113.5 152.6 L114.0 152.6 L114.5 152.6 L115.0 152.7 L115.5 152.7 L116.0 152.7 L116.5 152.7 L117.0 152.7 L117.5 152.7 L118.0 152.7 L118.5 152.7 L119.0 152.7 L119.5 152.7 L120.0 152.7 L120.5 152.7 L121.0 152.7 L121.5 152.7 L122.0 152.7 L122.5 152.6 L123.0 152.6 L123.5 152.6 L124.0 152.6 L124.5 152.5 L125.0 152.5 L125.5 152.4 L126.0 152.4 L126.5 152.3 L127.0 152.3 L127.5 152.2 L128.0 152.1 L128.5 152.1 L129.0 152.0 L129.5 151.9 L130.0 151.8 L130.5 151.7 L131.0 151.7 L131.5 151.6 L132.0 151.4 L132.5 151.2 L133.0 151.0 L133.5 150.7 L134.0 150.4 L134.5 150.1 L135.0 149.7 L135.5 149.2 L136.0 148.8 L136.5 148.3 L137.0 147.6 L137.5 146.8 L138.0 145.8 L138.5 144.7 L139.0 143.0 L139.5 140.8 L140.0 138.8 L140.5 137.5 L141.0 136.6 L141.5 135.7 L142.0 134.3 L142.5 132.0 L143.0 129.1 L143.5 126.3 L144.0 124.1 L144.5 122.0 L145.0 120.3 L145.5 120.1 L146.0 121.2 L146.5 123.0 L147.0 124.9 L147.5 127.6 L148.0 130.8 L148.5 134.1 L149.0 136.6 L149.5 138.5 L150.0 140.2 L150.5 141.6 L151.0 142.9 L151.5 143.9 L152.0 144.8 L152.5 145.6 L153.0 146.3 L153.5 147.0 L154.0 147.5 L154.5 148.0 L155.0 148.4 L155.5 148.7 L156.0 148.9 L156.5 149.1 L157.0 149.3 L157.5 149.4 L158.0 149.6 L158.5 149.7 L159.0 149.8 L159.5 149.9 L160.0 150.0 L160.5 150.1 L161.0 150.2 L161.5 150.2 L162.0 150.3 L162.5 150.4 L163.0 150.5 L163.5 150.5 L164.0 150.6 L164.5 150.6 L165.0 150.7 L165.5 150.8 L166.0 150.8 L166.5 150.9 L167.0 150.9 L167.5 151.0 L168.0 151.0 L168.5 151.0 L169.0 151.1 L169.5 151.1 L170.0 151.1 L170.5 151.1 L171.0 151.1 L171.5 151.2 L172.0 151.2 L172.5 151.2 L173.0 151.2 L173.5 151.2 L174.0 151.2 L174.5 151.2 L175.0 151.3 L175.5 151.3 L176.0 151.3 L176.5 151.3 L177.0 151.3 L177.5 151.3 L178.0 151.3 L178.5 151.3 L179.0 151.3 L179.5 151.3 L180.0 151.4 L180.5 151.4 L181.0 151.4 L181.5 151.4 L182.0 151.4 L182.5 151.4 L183.0 151.4 L183.5 151.4 L184.0 151.4 L184.5 151.4 L185.0 151.4 L185.5 151.4 L186.0 151.4 L186.5 151.4 L187.0 151.5 L187.5 151.5 L188.0 151.5 L188.5 151.5 L189.0 151.5 L189.5 151.5 L190.0 151.5 L190.5 151.5 L191.0 151.5 L191.5 151.5 L192.0 151.5 L192.5 151.5 L193.0 151.5 L193.5 151.6 L194.0 151.6 L194.5 151.6 L195.0 151.6 L195.5 151.6 L196.0 151.6 L196.5 151.6 L197.0 151.6 L197.5 151.6 L198.0 151.6 L198.5 151.6 L199.0 151.6 L199.5 151.6 L200.0 151.7 L200.5 151.7 L201.0 151.7 L201.5 151.7 L202.0 151.7 L202.5 151.7 L203.0 151.7 L203.5 151.7 L204.0 151.7 L204.5 151.7 L205.0 151.7 L205.5 151.7 L206.0 151.7 L206.5 151.8 L207.0 151.8 L207.5 151.8 L208.0 151.8 L208.5 151.8 L209.0 151.8 L209.5 151.8 L210.0 151.8 L210.5 151.8 L211.0 151.8 L211.5 151.8 L212.0 151.8 L212.5 151.8 L213.0 151.9 L213.5 151.9 L214.0 151.9 L214.5 151.9 L215.0 151.9 L215.5 151.9 L216.0 151.9 L216.5 151.9 L217.0 151.9 L217.5 151.9 L218.0 151.9 L218.5 151.9 L219.0 151.9 L219.5 152.0 L220.0 152.0 L220.5 152.0 L221.0 152.0 L221.5 152.0 L222.0 152.0 L222.5 152.0 L223.0 152.0 L223.5 152.0 L224.0 152.0 L224.5 152.0 L225.0 152.0 L225.5 152.0 L226.0 152.0 L226.5 152.1 L227.0 152.1 L227.5 152.1 L228.0 152.1 L228.5 152.1 L229.0 152.1 L229.5 152.1 L230.0 152.1 L230.5 152.1 L231.0 152.1 L231.5 152.1 L232.0 152.1 L232.5 152.1 L233.0 152.1 L233.5 152.2 L234.0 152.2 L234.5 152.2 L235.0 152.2 L235.5 152.2 L236.0 152.2 L236.5 152.2 L237.0 152.2 L237.5 152.2 L238.0 152.2 L238.5 152.2 L239.0 152.2 L239.5 152.2 L240.0 152.2 L240.5 152.2 L241.0 152.3 L241.5 152.3 L242.0 152.3 L242.5 152.3 L243.0 152.3 L243.5 152.3 L244.0 152.3 L244.5 152.3 L245.0 152.3 L245.5 152.3 L246.0 152.3 L246.5 152.3 L247.0 152.3 L247.5 152.3 L248.0 152.3 L248.5 152.3 L249.0 152.4 L249.5 152.4 L250.0 152.4 L250.5 152.4 L251.0 152.4 L251.5 152.4 L252.0 152.4 L252.5 152.4 L253.0 152.4 L253.5 152.4 L254.0 152.4 L254.5 152.4 L255.0 152.4 L255.5 152.4 L256.0 152.4 L256.5 152.4 L257.0 152.5 L257.5 152.5 L258.0 152.5 L258.5 152.5 L259.0 152.5 L259.5 152.5 L260.0 152.5 L260.5 152.5 L261.0 152.5 L261.5 152.5 L262.0 152.5 L262.5 152.5 L263.0 152.5 L263.5 152.5 L264.0 152.5 L264.5 152.5 L265.0 152.5 L265.5 152.5 L266.0 152.6 L266.5 152.6 L267.0 152.6 L267.5 152.6 L268.0 152.6 L268.5 152.6 L269.0 152.6 L269.5 152.6 L270.0 152.6 L270.5 152.6 L271.0 152.6 L271.5 152.6 L272.0 152.6 L272.5 152.6 L273.0 152.6 L273.5 152.6 L274.0 152.6 L274.5 152.6 L275.0 152.6 L275.5 152.7 L276.0 152.7 L276.5 152.7 L277.0 152.7 L277.5 152.7 L278.0 152.7 L278.5 152.7 L279.0 152.7 L279.5 152.7 L280.0 152.7 L280.5 152.7 L281.0 152.7 L281.5 152.7 L282.0 152.7 L282.5 152.7 L283.0 152.7 L283.5 152.7 L284.0 152.7 L284.5 152.7 L285.0 152.7 L285.5 152.7 L286.0 152.7 L286.5 152.7 L287.0 152.8 L287.5 152.8 L288.0 152.8 L288.5 152.8 L289.0 152.8 L289.5 152.8 L290.0 152.8 L290.5 152.8 L291.0 152.8 L291.5 152.8 L292.0 152.8 L292.5 152.8 L293.0 152.8 L293.5 152.8 L294.0 152.8 L294.5 152.8 L295.0 152.8 L295.5 152.8 L296.0 152.8 L296.5 152.8 L297.0 152.8 L297.5 152.8 L298.0 152.8 L298.5 152.8 L299.0 152.8 L299.5 152.8 L300.0 152.8 L300.5 152.8 L301.0 152.9 L301.5 152.9 L302.0 152.9 L302.5 152.9 L303.0 152.9 L303.5 152.9 L304.0 152.9 L304.5 152.9 L305.0 152.9 L305.5 152.9 L306.0 152.9 L306.5 152.9 L307.0 152.9 L307.5 152.9 L308.0 152.9 L308.5 152.9 L309.0 152.9 L309.5 152.9 L310.0 152.9" fill="none" stroke="#BF6AAE" stroke-width="2" stroke-linejoin="round"/>
<path d="M6.0 189.6 L6.5 189.6 L7.0 189.6 L7.5 189.6 L8.0 189.6 L8.5 189.6 L9.0 189.6 L9.5 189.6 L10.0 189.6 L10.5 189.6 L11.0 189.6 L11.5 189.6 L12.0 189.6 L12.5 189.6 L13.0 189.6 L13.5 189.6 L14.0 189.6 L14.5 189.6 L15.0 189.6 L15.5 189.6 L16.0 189.6 L16.5 189.6 L17.0 189.6 L17.5 189.6 L18.0 189.6 L18.5 189.6 L19.0 189.6 L19.5 189.6 L20.0 189.5 L20.5 189.5 L21.0 189.5 L21.5 189.5 L22.0 189.5 L22.5 189.5 L23.0 189.5 L23.5 189.5 L24.0 189.5 L24.5 189.5 L25.0 189.5 L25.5 189.5 L26.0 189.5 L26.5 189.5 L27.0 189.5 L27.5 189.5 L28.0 189.5 L28.5 189.5 L29.0 189.5 L29.5 189.5 L30.0 189.5 L30.5 189.5 L31.0 189.4 L31.5 189.4 L32.0 189.4 L32.5 189.4 L33.0 189.4 L33.5 189.4 L34.0 189.4 L34.5 189.4 L35.0 189.4 L35.5 189.4 L36.0 189.4 L36.5 189.4 L37.0 189.4 L37.5 189.4 L38.0 189.4 L38.5 189.4 L39.0 189.3 L39.5 189.3 L40.0 189.3 L40.5 189.3 L41.0 189.3 L41.5 189.3 L42.0 189.3 L42.5 189.3 L43.0 189.3 L43.5 189.3 L44.0 189.3 L44.5 189.3 L45.0 189.3 L45.5 189.2 L46.0 189.2 L46.5 189.2 L47.0 189.2 L47.5 189.2 L48.0 189.2 L48.5 189.2 L49.0 189.2 L49.5 189.2 L50.0 189.2 L50.5 189.2 L51.0 189.2 L51.5 189.2 L52.0 189.1 L52.5 189.1 L53.0 189.1 L53.5 189.1 L54.0 189.1 L54.5 189.1 L55.0 189.1 L55.5 189.1 L56.0 189.1 L56.5 189.1 L57.0 189.1 L57.5 189.0 L58.0 189.0 L58.5 189.0 L59.0 189.0 L59.5 189.0 L60.0 189.0 L60.5 189.0 L61.0 189.0 L61.5 189.0 L62.0 189.0 L62.5 189.0 L63.0 188.9 L63.5 188.9 L64.0 188.9 L64.5 188.9 L65.0 188.9 L65.5 188.9 L66.0 188.9 L66.5 188.9 L67.0 188.9 L67.5 188.8 L68.0 188.8 L68.5 188.8 L69.0 188.8 L69.5 188.8 L70.0 188.8 L70.5 188.8 L71.0 188.8 L71.5 188.7 L72.0 188.7 L72.5 188.7 L73.0 188.7 L73.5 188.7 L74.0 188.7 L74.5 188.7 L75.0 188.6 L75.5 188.6 L76.0 188.6 L76.5 188.6 L77.0 188.6 L77.5 188.6 L78.0 188.5 L78.5 188.5 L79.0 188.5 L79.5 188.5 L80.0 188.5 L80.5 188.4 L81.0 188.4 L81.5 188.4 L82.0 188.4 L82.5 188.3 L83.0 188.3 L83.5 188.3 L84.0 188.3 L84.5 188.3 L85.0 188.2 L85.5 188.2 L86.0 188.2 L86.5 188.2 L87.0 188.1 L87.5 188.1 L88.0 188.1 L88.5 188.0 L89.0 188.0 L89.5 188.0 L90.0 187.9 L90.5 187.9 L91.0 187.9 L91.5 187.9 L92.0 187.8 L92.5 187.8 L93.0 187.8 L93.5 187.7 L94.0 187.7 L94.5 187.6 L95.0 187.6 L95.5 187.6 L96.0 187.5 L96.5 187.5 L97.0 187.5 L97.5 187.4 L98.0 187.4 L98.5 187.3 L99.0 187.3 L99.5 187.2 L100.0 187.2 L100.5 187.1 L101.0 187.1 L101.5 187.0 L102.0 186.9 L102.5 186.8 L103.0 186.7 L103.5 186.6 L104.0 186.5 L104.5 186.3 L105.0 186.2 L105.5 186.0 L106.0 185.9 L106.5 185.7 L107.0 185.6 L107.5 185.4 L108.0 185.2 L108.5 185.1 L109.0 184.9 L109.5 184.8 L110.0 184.6 L110.5 184.4 L111.0 184.3 L111.5 184.1 L112.0 184.0 L112.5 183.8 L113.0 183.6 L113.5 183.4 L114.0 183.2 L114.5 183.0 L115.0 182.7 L115.5 182.4 L116.0 182.0 L116.5 181.5 L117.0 181.0 L117.5 180.5 L118.0 179.9 L118.5 179.2 L119.0 178.6 L119.5 177.9 L120.0 177.2 L120.5 176.6 L121.0 175.9 L121.5 175.3 L122.0 174.5 L122.5 173.8 L123.0 173.0 L123.5 172.2 L124.0 171.4 L124.5 170.6 L125.0 169.8 L125.5 169.0 L126.0 168.3 L126.5 167.5 L127.0 166.8 L127.5 166.1 L128.0 165.3 L128.5 164.6 L129.0 163.9 L129.5 163.2 L130.0 162.7 L130.5 162.2 L131.0 161.8 L131.5 161.3 L132.0 161.0 L132.5 160.7 L133.0 160.5 L133.5 160.5 L134.0 160.6 L134.5 160.7 L135.0 160.9 L135.5 161.1 L136.0 161.3 L136.5 161.5 L137.0 161.9 L137.5 162.3 L138.0 162.9 L138.5 163.5 L139.0 164.1 L139.5 164.8 L140.0 165.5 L140.5 166.1 L141.0 166.8 L141.5 167.6 L142.0 168.4 L142.5 169.2 L143.0 170.1 L143.5 170.9 L144.0 171.7 L144.5 172.6 L145.0 173.3 L145.5 174.0 L146.0 174.7 L146.5 175.3 L147.0 175.9 L147.5 176.6 L148.0 177.2 L148.5 177.7 L149.0 178.3 L149.5 178.8 L150.0 179.3 L150.5 179.8 L151.0 180.3 L151.5 180.7 L152.0 181.0 L152.5 181.4 L153.0 181.8 L153.5 182.2 L154.0 182.5 L154.5 182.8 L155.0 183.2 L155.5 183.5 L156.0 183.8 L156.5 184.0 L157.0 184.3 L157.5 184.5 L158.0 184.7 L158.5 184.9 L159.0 185.0 L159.5 185.2 L160.0 185.3 L160.5 185.4 L161.0 185.5 L161.5 185.7 L162.0 185.8 L162.5 185.9 L163.0 186.0 L163.5 186.0 L164.0 186.1 L164.5 186.2 L165.0 186.3 L165.5 186.4 L166.0 186.5 L166.5 186.6 L167.0 186.6 L167.5 186.7 L168.0 186.8 L168.5 186.9 L169.0 186.9 L169.5 187.0 L170.0 187.1 L170.5 187.2 L171.0 187.2 L171.5 187.3 L172.0 187.4 L172.5 187.4 L173.0 187.5 L173.5 187.5 L174.0 187.6 L174.5 187.7 L175.0 187.7 L175.5 187.8 L176.0 187.8 L176.5 187.9 L177.0 187.9 L177.5 187.9 L178.0 188.0 L178.5 188.0 L179.0 188.1 L179.5 188.1 L180.0 188.1 L180.5 188.2 L181.0 188.2 L181.5 188.3 L182.0 188.3 L182.5 188.3 L183.0 188.4 L183.5 188.4 L184.0 188.5 L184.5 188.5 L185.0 188.5 L185.5 188.6 L186.0 188.6 L186.5 188.6 L187.0 188.7 L187.5 188.7 L188.0 188.7 L188.5 188.8 L189.0 188.8 L189.5 188.8 L190.0 188.9 L190.5 188.9 L191.0 188.9 L191.5 188.9 L192.0 189.0 L192.5 189.0 L193.0 189.0 L193.5 189.0 L194.0 189.1 L194.5 189.1 L195.0 189.1 L195.5 189.1 L196.0 189.1 L196.5 189.1 L197.0 189.2 L197.5 189.2 L198.0 189.2 L198.5 189.2 L199.0 189.2 L199.5 189.2 L200.0 189.2 L200.5 189.2 L201.0 189.2 L201.5 189.2 L202.0 189.2 L202.5 189.2 L203.0 189.2 L203.5 189.2 L204.0 189.2 L204.5 189.2 L205.0 189.2 L205.5 189.2 L206.0 189.2 L206.5 189.2 L207.0 189.2 L207.5 189.2 L208.0 189.2 L208.5 189.2 L209.0 189.2 L209.5 189.2 L210.0 189.2 L210.5 189.2 L211.0 189.2 L211.5 189.2 L212.0 189.2 L212.5 189.3 L213.0 189.3 L213.5 189.3 L214.0 189.3 L214.5 189.3 L215.0 189.3 L215.5 189.3 L216.0 189.3 L216.5 189.3 L217.0 189.3 L217.5 189.3 L218.0 189.3 L218.5 189.3 L219.0 189.3 L219.5 189.3 L220.0 189.3 L220.5 189.3 L221.0 189.3 L221.5 189.3 L222.0 189.3 L222.5 189.3 L223.0 189.3 L223.5 189.3 L224.0 189.3 L224.5 189.3 L225.0 189.3 L225.5 189.3 L226.0 189.3 L226.5 189.3 L227.0 189.3 L227.5 189.3 L228.0 189.3 L228.5 189.3 L229.0 189.3 L229.5 189.3 L230.0 189.3 L230.5 189.3 L231.0 189.3 L231.5 189.3 L232.0 189.3 L232.5 189.3 L233.0 189.3 L233.5 189.3 L234.0 189.3 L234.5 189.3 L235.0 189.3 L235.5 189.3 L236.0 189.3 L236.5 189.3 L237.0 189.3 L237.5 189.3 L238.0 189.3 L238.5 189.3 L239.0 189.3 L239.5 189.3 L240.0 189.3 L240.5 189.3 L241.0 189.3 L241.5 189.3 L242.0 189.3 L242.5 189.3 L243.0 189.3 L243.5 189.3 L244.0 189.3 L244.5 189.3 L245.0 189.3 L245.5 189.3 L246.0 189.3 L246.5 189.3 L247.0 189.3 L247.5 189.3 L248.0 189.4 L248.5 189.4 L249.0 189.4 L249.5 189.4 L250.0 189.4 L250.5 189.4 L251.0 189.4 L251.5 189.4 L252.0 189.4 L252.5 189.4 L253.0 189.4 L253.5 189.4 L254.0 189.4 L254.5 189.4 L255.0 189.4 L255.5 189.4 L256.0 189.4 L256.5 189.4 L257.0 189.4 L257.5 189.4 L258.0 189.4 L258.5 189.4 L259.0 189.4 L259.5 189.4 L260.0 189.4 L260.5 189.4 L261.0 189.4 L261.5 189.4 L262.0 189.4 L262.5 189.4 L263.0 189.4 L263.5 189.4 L264.0 189.4 L264.5 189.4 L265.0 189.4 L265.5 189.4 L266.0 189.4 L266.5 189.4 L267.0 189.4 L267.5 189.4 L268.0 189.4 L268.5 189.4 L269.0 189.4 L269.5 189.4 L270.0 189.4 L270.5 189.4 L271.0 189.4 L271.5 189.4 L272.0 189.4 L272.5 189.4 L273.0 189.4 L273.5 189.4 L274.0 189.4 L274.5 189.4 L275.0 189.4 L275.5 189.4 L276.0 189.4 L276.5 189.4 L277.0 189.4 L277.5 189.4 L278.0 189.4 L278.5 189.4 L279.0 189.4 L279.5 189.4 L280.0 189.4 L280.5 189.4 L281.0 189.4 L281.5 189.4 L282.0 189.4 L282.5 189.4 L283.0 189.4 L283.5 189.4 L284.0 189.4 L284.5 189.4 L285.0 189.4 L285.5 189.4 L286.0 189.4 L286.5 189.4 L287.0 189.4 L287.5 189.4 L288.0 189.4 L288.5 189.4 L289.0 189.4 L289.5 189.4 L290.0 189.4 L290.5 189.4 L291.0 189.4 L291.5 189.4 L292.0 189.4 L292.5 189.4 L293.0 189.4 L293.5 189.4 L294.0 189.4 L294.5 189.4 L295.0 189.4 L295.5 189.4 L296.0 189.4 L296.5 189.4 L297.0 189.4 L297.5 189.4 L298.0 189.4 L298.5 189.4 L299.0 189.4 L299.5 189.4 L300.0 189.4 L300.5 189.4 L301.0 189.4 L301.5 189.4 L302.0 189.4 L302.5 189.4 L303.0 189.4 L303.5 189.4 L304.0 189.4 L304.5 189.4 L305.0 189.4 L305.5 189.4 L306.0 189.4 L306.5 189.4 L307.0 189.4 L307.5 189.4 L308.0 189.4" fill="none" stroke="#1CA2BD" stroke-width="2" stroke-linejoin="round"/>
<path d="M6.0 226.8 L6.5 226.8 L7.0 226.8 L7.5 226.8 L8.0 226.8 L8.5 226.8 L9.0 226.8 L9.5 226.8 L10.0 226.8 L10.5 226.8 L11.0 226.8 L11.5 226.8 L12.0 226.8 L12.5 226.8 L13.0 226.8 L13.5 226.8 L14.0 226.8 L14.5 226.8 L15.0 226.8 L15.5 226.8 L16.0 226.8 L16.5 226.8 L17.0 226.8 L17.5 226.8 L18.0 226.8 L18.5 226.8 L19.0 226.8 L19.5 226.8 L20.0 226.8 L20.5 226.8 L21.0 226.8 L21.5 226.8 L22.0 226.8 L22.5 226.8 L23.0 226.8 L23.5 226.8 L24.0 226.8 L24.5 226.8 L25.0 226.8 L25.5 226.8 L26.0 226.8 L26.5 226.8 L27.0 226.8 L27.5 226.8 L28.0 226.8 L28.5 226.8 L29.0 226.8 L29.5 226.8 L30.0 226.8 L30.5 226.8 L31.0 226.8 L31.5 226.8 L32.0 226.8 L32.5 226.8 L33.0 226.8 L33.5 226.8 L34.0 226.8 L34.5 226.8 L35.0 226.8 L35.5 226.8 L36.0 226.8 L36.5 226.8 L37.0 226.8 L37.5 226.8 L38.0 226.8 L38.5 226.8 L39.0 226.8 L39.5 226.8 L40.0 226.8 L40.5 226.8 L41.0 226.8 L41.5 226.8 L42.0 226.8 L42.5 226.8 L43.0 226.8 L43.5 226.8 L44.0 226.8 L44.5 226.8 L45.0 226.8 L45.5 226.8 L46.0 226.8 L46.5 226.8 L47.0 226.8 L47.5 226.8 L48.0 226.8 L48.5 226.8 L49.0 226.8 L49.5 226.8 L50.0 226.8 L50.5 226.8 L51.0 226.8 L51.5 226.8 L52.0 226.8 L52.5 226.8 L53.0 226.8 L53.5 226.8 L54.0 226.8 L54.5 226.8 L55.0 226.8 L55.5 226.8 L56.0 226.8 L56.5 226.8 L57.0 226.8 L57.5 226.8 L58.0 226.8 L58.5 226.8 L59.0 226.8 L59.5 226.8 L60.0 226.8 L60.5 226.8 L61.0 226.8 L61.5 226.8 L62.0 226.8 L62.5 226.8 L63.0 226.8 L63.5 226.8 L64.0 226.8 L64.5 226.8 L65.0 226.8 L65.5 226.8 L66.0 226.8 L66.5 226.8 L67.0 226.8 L67.5 226.8 L68.0 226.8 L68.5 226.8 L69.0 226.8 L69.5 226.8 L70.0 226.8 L70.5 226.8 L71.0 226.8 L71.5 226.8 L72.0 226.8 L72.5 226.8 L73.0 226.8 L73.5 226.8 L74.0 226.8 L74.5 226.8 L75.0 226.8 L75.5 226.8 L76.0 226.8 L76.5 226.8 L77.0 226.8 L77.5 226.8 L78.0 226.8 L78.5 226.8 L79.0 226.8 L79.5 226.8 L80.0 226.8 L80.5 226.8 L81.0 226.8 L81.5 226.8 L82.0 226.8 L82.5 226.8 L83.0 226.8 L83.5 226.8 L84.0 226.8 L84.5 226.8 L85.0 226.8 L85.5 226.8 L86.0 226.8 L86.5 226.8 L87.0 226.8 L87.5 226.8 L88.0 226.8 L88.5 226.8 L89.0 226.8 L89.5 226.8 L90.0 226.8 L90.5 226.8 L91.0 226.8 L91.5 226.8 L92.0 226.8 L92.5 226.8 L93.0 226.8 L93.5 226.8 L94.0 226.8 L94.5 226.8 L95.0 226.8 L95.5 226.8 L96.0 226.8 L96.5 226.8 L97.0 226.8 L97.5 226.8 L98.0 226.8 L98.5 226.8 L99.0 226.8 L99.5 226.8 L100.0 226.8 L100.5 226.8 L101.0 226.8 L101.5 226.8 L102.0 226.8 L102.5 226.8 L103.0 226.8 L103.5 226.8 L104.0 226.8 L104.5 226.7 L105.0 226.7 L105.5 226.7 L106.0 226.7 L106.5 226.7 L107.0 226.7 L107.5 226.7 L108.0 226.6 L108.5 226.6 L109.0 226.6 L109.5 226.6 L110.0 226.6 L110.5 226.5 L111.0 226.5 L111.5 226.5 L112.0 226.4 L112.5 226.4 L113.0 226.3 L113.5 226.3 L114.0 226.2 L114.5 226.1 L115.0 226.1 L115.5 226.0 L116.0 225.9 L116.5 225.8 L117.0 225.7 L117.5 225.7 L118.0 225.6 L118.5 225.5 L119.0 225.4 L119.5 225.3 L120.0 225.2 L120.5 225.1 L121.0 225.0 L121.5 224.9 L122.0 224.7 L122.5 224.6 L123.0 224.5 L123.5 224.3 L124.0 224.2 L124.5 224.0 L125.0 223.8 L125.5 223.6 L126.0 223.4 L126.5 223.3 L127.0 223.0 L127.5 222.8 L128.0 222.6 L128.5 222.4 L129.0 222.2 L129.5 221.9 L130.0 221.6 L130.5 221.3 L131.0 220.9 L131.5 220.6 L132.0 220.1 L132.5 219.7 L133.0 219.2 L133.5 218.7 L134.0 218.0 L134.5 217.1 L135.0 216.2 L135.5 215.3 L136.0 214.4 L136.5 213.5 L137.0 212.6 L137.5 211.8 L138.0 210.9 L138.5 210.0 L139.0 209.2 L139.5 208.3 L140.0 207.5 L140.5 206.6 L141.0 205.7 L141.5 204.8 L142.0 203.9 L142.5 203.0 L143.0 202.2 L143.5 201.6 L144.0 201.0 L144.5 200.5 L145.0 200.0 L145.5 199.5 L146.0 199.1 L146.5 198.8 L147.0 198.6 L147.5 198.5 L148.0 198.6 L148.5 198.8 L149.0 199.2 L149.5 199.5 L150.0 200.0 L150.5 200.7 L151.0 201.6 L151.5 202.5 L152.0 203.4 L152.5 204.2 L153.0 205.0 L153.5 205.8 L154.0 206.6 L154.5 207.4 L155.0 208.2 L155.5 209.1 L156.0 209.8 L156.5 210.6 L157.0 211.3 L157.5 211.9 L158.0 212.4 L158.5 212.9 L159.0 213.2 L159.5 213.5 L160.0 213.7 L160.5 214.0 L161.0 214.2 L161.5 214.4 L162.0 214.6 L162.5 214.8 L163.0 214.9 L163.5 215.1 L164.0 215.3 L164.5 215.4 L165.0 215.5 L165.5 215.7 L166.0 215.8 L166.5 215.9 L167.0 216.0 L167.5 216.1 L168.0 216.2 L168.5 216.3 L169.0 216.4 L169.5 216.5 L170.0 216.6 L170.5 216.7 L171.0 216.8 L171.5 216.9 L172.0 217.0 L172.5 217.0 L173.0 217.1 L173.5 217.2 L174.0 217.2 L174.5 217.3 L175.0 217.4 L175.5 217.4 L176.0 217.5 L176.5 217.5 L177.0 217.6 L177.5 217.6 L178.0 217.7 L178.5 217.8 L179.0 217.8 L179.5 217.9 L180.0 218.0 L180.5 218.0 L181.0 218.1 L181.5 218.2 L182.0 218.3 L182.5 218.4 L183.0 218.4 L183.5 218.5 L184.0 218.6 L184.5 218.7 L185.0 218.8 L185.5 218.9 L186.0 219.1 L186.5 219.2 L187.0 219.3 L187.5 219.4 L188.0 219.5 L188.5 219.6 L189.0 219.8 L189.5 219.9 L190.0 220.0 L190.5 220.1 L191.0 220.3 L191.5 220.4 L192.0 220.5 L192.5 220.7 L193.0 220.8 L193.5 221.0 L194.0 221.2 L194.5 221.3 L195.0 221.5 L195.5 221.7 L196.0 221.8 L196.5 222.0 L197.0 222.2 L197.5 222.4 L198.0 222.5 L198.5 222.7 L199.0 222.9 L199.5 223.0 L200.0 223.2 L200.5 223.3 L201.0 223.5 L201.5 223.6 L202.0 223.7 L202.5 223.9 L203.0 224.0 L203.5 224.1 L204.0 224.2 L204.5 224.3 L205.0 224.4 L205.5 224.5 L206.0 224.5 L206.5 224.6 L207.0 224.6 L207.5 224.7 L208.0 224.8 L208.5 224.8 L209.0 224.9 L209.5 224.9 L210.0 225.0 L210.5 225.0 L211.0 225.1 L211.5 225.2 L212.0 225.2 L212.5 225.3 L213.0 225.3 L213.5 225.4 L214.0 225.4 L214.5 225.5 L215.0 225.5 L215.5 225.5 L216.0 225.6 L216.5 225.6 L217.0 225.7 L217.5 225.7 L218.0 225.8 L218.5 225.8 L219.0 225.8 L219.5 225.9 L220.0 225.9 L220.5 225.9 L221.0 226.0 L221.5 226.0 L222.0 226.0 L222.5 226.1 L223.0 226.1 L223.5 226.1 L224.0 226.1 L224.5 226.2 L225.0 226.2 L225.5 226.2 L226.0 226.2 L226.5 226.2 L227.0 226.2 L227.5 226.3 L228.0 226.3 L228.5 226.3 L229.0 226.3 L229.5 226.3 L230.0 226.3 L230.5 226.3 L231.0 226.3 L231.5 226.3 L232.0 226.3 L232.5 226.3 L233.0 226.3 L233.5 226.3 L234.0 226.3 L234.5 226.3 L235.0 226.3 L235.5 226.3 L236.0 226.3 L236.5 226.4 L237.0 226.4 L237.5 226.4 L238.0 226.4 L238.5 226.4 L239.0 226.4 L239.5 226.4 L240.0 226.4 L240.5 226.4 L241.0 226.4 L241.5 226.4 L242.0 226.4 L242.5 226.4 L243.0 226.4 L243.5 226.4 L244.0 226.4 L244.5 226.4 L245.0 226.4 L245.5 226.4 L246.0 226.4 L246.5 226.4 L247.0 226.4 L247.5 226.4 L248.0 226.4 L248.5 226.4 L249.0 226.4 L249.5 226.4 L250.0 226.4 L250.5 226.4 L251.0 226.5 L251.5 226.5 L252.0 226.5 L252.5 226.5 L253.0 226.5 L253.5 226.5 L254.0 226.5 L254.5 226.5 L255.0 226.5 L255.5 226.5 L256.0 226.5 L256.5 226.5 L257.0 226.5 L257.5 226.5 L258.0 226.5 L258.5 226.5 L259.0 226.5 L259.5 226.5 L260.0 226.5 L260.5 226.5 L261.0 226.5 L261.5 226.5 L262.0 226.5 L262.5 226.5 L263.0 226.5 L263.5 226.5 L264.0 226.5 L264.5 226.5 L265.0 226.5 L265.5 226.5 L266.0 226.5 L266.5 226.5 L267.0 226.5 L267.5 226.5 L268.0 226.5 L268.5 226.5 L269.0 226.5 L269.5 226.5 L270.0 226.5 L270.5 226.5 L271.0 226.5 L271.5 226.5 L272.0 226.5 L272.5 226.5 L273.0 226.5 L273.5 226.5 L274.0 226.6 L274.5 226.6 L275.0 226.6 L275.5 226.6 L276.0 226.6 L276.5 226.6 L277.0 226.6 L277.5 226.6 L278.0 226.6 L278.5 226.6 L279.0 226.6 L279.5 226.6 L280.0 226.6 L280.5 226.6 L281.0 226.6 L281.5 226.6 L282.0 226.6 L282.5 226.6 L283.0 226.6 L283.5 226.6 L284.0 226.6 L284.5 226.6 L285.0 226.6 L285.5 226.6 L286.0 226.6 L286.5 226.6 L287.0 226.6 L287.5 226.6 L288.0 226.6 L288.5 226.6 L289.0 226.6 L289.5 226.6 L290.0 226.6 L290.5 226.6 L291.0 226.6 L291.5 226.6 L292.0 226.6 L292.5 226.6 L293.0 226.6 L293.5 226.6 L294.0 226.6 L294.5 226.6 L295.0 226.6 L295.5 226.6 L296.0 226.6 L296.5 226.6 L297.0 226.6 L297.5 226.6 L298.0 226.6 L298.5 226.6 L299.0 226.6 L299.5 226.6 L300.0 226.6 L300.5 226.6 L301.0 226.6 L301.5 226.6 L302.0 226.6 L302.5 226.6 L303.0 226.6 L303.5 226.6 L304.0 226.6 L304.5 226.6 L305.0 226.6 L305.5 226.6 L306.0 226.6 L306.5 226.6 L307.0 226.6 L307.5 226.6 L308.0 226.6" fill="none" stroke="#2F6BAA" stroke-width="2" stroke-linejoin="round"/>
<path d="M6.0 269.6 L6.5 269.6 L7.0 269.6 L7.5 269.6 L8.0 269.6 L8.5 269.6 L9.0 269.6 L9.5 269.6 L10.0 269.6 L10.5 269.6 L11.0 269.6 L11.5 269.6 L12.0 269.6 L12.5 269.6 L13.0 269.6 L13.5 269.6 L14.0 269.6 L14.5 269.6 L15.0 269.6 L15.5 269.6 L16.0 269.6 L16.5 269.6 L17.0 269.6 L17.5 269.6 L18.0 269.6 L18.5 269.6 L19.0 269.6 L19.5 269.6 L20.0 269.6 L20.5 269.6 L21.0 269.6 L21.5 269.6 L22.0 269.6 L22.5 269.6 L23.0 269.6 L23.5 269.6 L24.0 269.6 L24.5 269.6 L25.0 269.6 L25.5 269.6 L26.0 269.6 L26.5 269.6 L27.0 269.6 L27.5 269.6 L28.0 269.6 L28.5 269.6 L29.0 269.6 L29.5 269.6 L30.0 269.6 L30.5 269.6 L31.0 269.6 L31.5 269.6 L32.0 269.6 L32.5 269.6 L33.0 269.6 L33.5 269.6 L34.0 269.6 L34.5 269.6 L35.0 269.6 L35.5 269.6 L36.0 269.6 L36.5 269.6 L37.0 269.6 L37.5 269.6 L38.0 269.6 L38.5 269.5 L39.0 269.5 L39.5 269.5 L40.0 269.5 L40.5 269.5 L41.0 269.5 L41.5 269.5 L42.0 269.5 L42.5 269.5 L43.0 269.5 L43.5 269.5 L44.0 269.5 L44.5 269.5 L45.0 269.5 L45.5 269.5 L46.0 269.5 L46.5 269.5 L47.0 269.5 L47.5 269.5 L48.0 269.5 L48.5 269.5 L49.0 269.5 L49.5 269.5 L50.0 269.5 L50.5 269.5 L51.0 269.5 L51.5 269.5 L52.0 269.5 L52.5 269.5 L53.0 269.5 L53.5 269.5 L54.0 269.5 L54.5 269.5 L55.0 269.5 L55.5 269.5 L56.0 269.5 L56.5 269.5 L57.0 269.5 L57.5 269.5 L58.0 269.5 L58.5 269.5 L59.0 269.5 L59.5 269.5 L60.0 269.5 L60.5 269.5 L61.0 269.5 L61.5 269.5 L62.0 269.5 L62.5 269.5 L63.0 269.5 L63.5 269.5 L64.0 269.5 L64.5 269.5 L65.0 269.5 L65.5 269.5 L66.0 269.5 L66.5 269.5 L67.0 269.5 L67.5 269.5 L68.0 269.5 L68.5 269.5 L69.0 269.5 L69.5 269.5 L70.0 269.5 L70.5 269.5 L71.0 269.5 L71.5 269.5 L72.0 269.5 L72.5 269.5 L73.0 269.5 L73.5 269.5 L74.0 269.5 L74.5 269.5 L75.0 269.5 L75.5 269.5 L76.0 269.5 L76.5 269.5 L77.0 269.5 L77.5 269.5 L78.0 269.5 L78.5 269.5 L79.0 269.5 L79.5 269.5 L80.0 269.5 L80.5 269.4 L81.0 269.4 L81.5 269.4 L82.0 269.4 L82.5 269.4 L83.0 269.4 L83.5 269.4 L84.0 269.4 L84.5 269.4 L85.0 269.4 L85.5 269.4 L86.0 269.4 L86.5 269.4 L87.0 269.4 L87.5 269.4 L88.0 269.4 L88.5 269.4 L89.0 269.4 L89.5 269.4 L90.0 269.4 L90.5 269.4 L91.0 269.4 L91.5 269.4 L92.0 269.4 L92.5 269.3 L93.0 269.3 L93.5 269.3 L94.0 269.3 L94.5 269.2 L95.0 269.2 L95.5 269.2 L96.0 269.1 L96.5 269.1 L97.0 269.1 L97.5 269.0 L98.0 269.0 L98.5 268.9 L99.0 268.9 L99.5 268.8 L100.0 268.8 L100.5 268.7 L101.0 268.7 L101.5 268.6 L102.0 268.5 L102.5 268.5 L103.0 268.4 L103.5 268.3 L104.0 268.3 L104.5 268.2 L105.0 268.1 L105.5 268.0 L106.0 268.0 L106.5 267.9 L107.0 267.8 L107.5 267.7 L108.0 267.6 L108.5 267.6 L109.0 267.5 L109.5 267.4 L110.0 267.3 L110.5 267.2 L111.0 267.1 L111.5 266.9 L112.0 266.8 L112.5 266.6 L113.0 266.5 L113.5 266.3 L114.0 266.1 L114.5 265.9 L115.0 265.7 L115.5 265.5 L116.0 265.2 L116.5 265.0 L117.0 264.7 L117.5 264.5 L118.0 264.2 L118.5 263.9 L119.0 263.6 L119.5 263.3 L120.0 262.9 L120.5 262.5 L121.0 262.0 L121.5 261.5 L122.0 260.9 L122.5 260.3 L123.0 259.6 L123.5 258.9 L124.0 258.2 L124.5 257.4 L125.0 256.6 L125.5 255.7 L126.0 254.6 L126.5 253.4 L127.0 252.1 L127.5 250.7 L128.0 249.2 L128.5 247.7 L129.0 246.0 L129.5 243.7 L130.0 241.3 L130.5 239.1 L131.0 237.9 L131.5 238.0 L132.0 239.0 L132.5 240.6 L133.0 242.4 L133.5 244.0 L134.0 245.1 L134.5 246.3 L135.0 247.5 L135.5 248.7 L136.0 249.8 L136.5 250.8 L137.0 251.8 L137.5 252.7 L138.0 253.4 L138.5 254.0 L139.0 254.5 L139.5 255.0 L140.0 255.5 L140.5 256.0 L141.0 256.4 L141.5 256.8 L142.0 257.2 L142.5 257.5 L143.0 257.9 L143.5 258.2 L144.0 258.5 L144.5 258.8 L145.0 259.1 L145.5 259.4 L146.0 259.7 L146.5 259.9 L147.0 260.2 L147.5 260.4 L148.0 260.7 L148.5 260.9 L149.0 261.1 L149.5 261.4 L150.0 261.6 L150.5 261.8 L151.0 262.0 L151.5 262.2 L152.0 262.4 L152.5 262.6 L153.0 262.8 L153.5 263.0 L154.0 263.2 L154.5 263.3 L155.0 263.5 L155.5 263.6 L156.0 263.8 L156.5 263.9 L157.0 264.0 L157.5 264.1 L158.0 264.2 L158.5 264.3 L159.0 264.4 L159.5 264.5 L160.0 264.6 L160.5 264.7 L161.0 264.7 L161.5 264.8 L162.0 264.9 L162.5 265.0 L163.0 265.0 L163.5 265.1 L164.0 265.2 L164.5 265.2 L165.0 265.3 L165.5 265.3 L166.0 265.4 L166.5 265.4 L167.0 265.5 L167.5 265.5 L168.0 265.6 L168.5 265.7 L169.0 265.7 L169.5 265.7 L170.0 265.8 L170.5 265.8 L171.0 265.9 L171.5 265.9 L172.0 266.0 L172.5 266.0 L173.0 266.1 L173.5 266.1 L174.0 266.2 L174.5 266.2 L175.0 266.3 L175.5 266.3 L176.0 266.4 L176.5 266.4 L177.0 266.5 L177.5 266.5 L178.0 266.6 L178.5 266.7 L179.0 266.7 L179.5 266.8 L180.0 266.8 L180.5 266.9 L181.0 267.0 L181.5 267.0 L182.0 267.1 L182.5 267.2 L183.0 267.2 L183.5 267.3 L184.0 267.4 L184.5 267.4 L185.0 267.5 L185.5 267.6 L186.0 267.6 L186.5 267.7 L187.0 267.7 L187.5 267.8 L188.0 267.9 L188.5 267.9 L189.0 268.0 L189.5 268.1 L190.0 268.1 L190.5 268.2 L191.0 268.2 L191.5 268.3 L192.0 268.3 L192.5 268.4 L193.0 268.4 L193.5 268.5 L194.0 268.5 L194.5 268.5 L195.0 268.6 L195.5 268.6 L196.0 268.7 L196.5 268.7 L197.0 268.7 L197.5 268.7 L198.0 268.8 L198.5 268.8 L199.0 268.8 L199.5 268.8 L200.0 268.8 L200.5 268.8 L201.0 268.8 L201.5 268.8 L202.0 268.8 L202.5 268.8 L203.0 268.8 L203.5 268.8 L204.0 268.8 L204.5 268.8 L205.0 268.8 L205.5 268.8 L206.0 268.9 L206.5 268.9 L207.0 268.9 L207.5 268.9 L208.0 268.9 L208.5 268.9 L209.0 268.9 L209.5 268.9 L210.0 268.9 L210.5 268.9 L211.0 268.9 L211.5 268.9 L212.0 268.9 L212.5 268.9 L213.0 268.9 L213.5 268.9 L214.0 268.9 L214.5 268.9 L215.0 268.9 L215.5 268.9 L216.0 268.9 L216.5 268.9 L217.0 268.9 L217.5 268.9 L218.0 268.9 L218.5 268.9 L219.0 268.9 L219.5 269.0 L220.0 269.0 L220.5 269.0 L221.0 269.0 L221.5 269.0 L222.0 269.0 L222.5 269.0 L223.0 269.0 L223.5 269.0 L224.0 269.0 L224.5 269.0 L225.0 269.0 L225.5 269.0 L226.0 269.0 L226.5 269.0 L227.0 269.0 L227.5 269.0 L228.0 269.0 L228.5 269.0 L229.0 269.0 L229.5 269.0 L230.0 269.0 L230.5 269.0 L231.0 269.0 L231.5 269.0 L232.0 269.0 L232.5 269.0 L233.0 269.0 L233.5 269.0 L234.0 269.0 L234.5 269.0 L235.0 269.0 L235.5 269.0 L236.0 269.0 L236.5 269.0 L237.0 269.1 L237.5 269.1 L238.0 269.1 L238.5 269.1 L239.0 269.1 L239.5 269.1 L240.0 269.1 L240.5 269.1 L241.0 269.1 L241.5 269.1 L242.0 269.1 L242.5 269.1 L243.0 269.1 L243.5 269.1 L244.0 269.1 L244.5 269.1 L245.0 269.1 L245.5 269.1 L246.0 269.1 L246.5 269.1 L247.0 269.1 L247.5 269.1 L248.0 269.1 L248.5 269.1 L249.0 269.1 L249.5 269.1 L250.0 269.1 L250.5 269.1 L251.0 269.1 L251.5 269.1 L252.0 269.1 L252.5 269.1 L253.0 269.1 L253.5 269.1 L254.0 269.1 L254.5 269.1 L255.0 269.1 L255.5 269.1 L256.0 269.1 L256.5 269.1 L257.0 269.1 L257.5 269.1 L258.0 269.1 L258.5 269.1 L259.0 269.1 L259.5 269.1 L260.0 269.1 L260.5 269.1 L261.0 269.1 L261.5 269.1 L262.0 269.1 L262.5 269.1 L263.0 269.1 L263.5 269.1 L264.0 269.1 L264.5 269.2 L265.0 269.2 L265.5 269.2 L266.0 269.2 L266.5 269.2 L267.0 269.2 L267.5 269.2 L268.0 269.2 L268.5 269.2 L269.0 269.2 L269.5 269.2 L270.0 269.2 L270.5 269.2 L271.0 269.2 L271.5 269.2 L272.0 269.2 L272.5 269.2 L273.0 269.2 L273.5 269.2 L274.0 269.2 L274.5 269.2 L275.0 269.2 L275.5 269.2 L276.0 269.2 L276.5 269.2 L277.0 269.2 L277.5 269.2 L278.0 269.2 L278.5 269.2 L279.0 269.2 L279.5 269.2 L280.0 269.2 L280.5 269.2 L281.0 269.2 L281.5 269.2 L282.0 269.2 L282.5 269.2 L283.0 269.2 L283.5 269.2 L284.0 269.2 L284.5 269.2 L285.0 269.2 L285.5 269.2 L286.0 269.2 L286.5 269.2 L287.0 269.2 L287.5 269.2 L288.0 269.2 L288.5 269.2 L289.0 269.2 L289.5 269.2 L290.0 269.2 L290.5 269.2 L291.0 269.2 L291.5 269.2 L292.0 269.2 L292.5 269.2 L293.0 269.2 L293.5 269.2 L294.0 269.2 L294.5 269.2 L295.0 269.2 L295.5 269.2 L296.0 269.2 L296.5 269.2 L297.0 269.2 L297.5 269.2 L298.0 269.2 L298.5 269.2 L299.0 269.2 L299.5 269.2 L300.0 269.2 L300.5 269.2 L301.0 269.2 L301.5 269.2 L302.0 269.2 L302.5 269.2 L303.0 269.2 L303.5 269.2 L304.0 269.2 L304.5 269.2 L305.0 269.2 L305.5 269.2 L306.0 269.2 L306.5 269.2 L307.0 269.2 L307.5 269.2 L308.0 269.2" fill="none" stroke="#151515" stroke-width="2" stroke-linejoin="round"/>
<text transform="translate(18.3 20.7) scale(0.900 1)" style="font-family:'Liberation Serif',serif;font-size:17.0px;font-weight:normal" text-anchor="start" fill="#111" >(a)</text>
<text transform="translate(239.8 27.0) scale(0.900 1)" style="font-family:'Liberation Serif',serif;font-size:10.5px;font-weight:bold" text-anchor="start" fill="#111" >HSiW/Al<tspan dy="2.2" font-size="72%">2</tspan><tspan dy="-2.2">O</tspan><tspan dy="2.2" font-size="72%">3</tspan></text>
<text transform="translate(239.8 67.6) scale(0.900 1)" style="font-family:'Liberation Serif',serif;font-size:10.5px;font-weight:bold" text-anchor="start" fill="#111" >HSiW/SiO<tspan dy="2.2" font-size="72%">2</tspan></text>
<text transform="translate(239.8 100.0) scale(0.900 1)" style="font-family:'Liberation Serif',serif;font-size:10.5px;font-weight:bold" text-anchor="start" fill="#111" >HSiW/ZrO<tspan dy="2.2" font-size="72%">2</tspan></text>
<text transform="translate(239.8 148.3) scale(0.900 1)" style="font-family:'Liberation Serif',serif;font-size:10.5px;font-weight:bold" text-anchor="start" fill="#111" >HSiW/CeO<tspan dy="2.2" font-size="72%">2</tspan></text>
<text transform="translate(239.8 186.0) scale(0.900 1)" style="font-family:'Liberation Serif',serif;font-size:10.5px;font-weight:bold" text-anchor="start" fill="#111" >HSiW/TiO<tspan dy="2.2" font-size="72%">2</tspan></text>
<text transform="translate(239.8 221.4) scale(0.900 1)" style="font-family:'Liberation Serif',serif;font-size:10.5px;font-weight:bold" text-anchor="start" fill="#111" >HSiW/BN</text>
<text transform="translate(239.8 256.7) scale(0.900 1)" style="font-family:'Liberation Serif',serif;font-size:10.5px;font-weight:bold" text-anchor="start" fill="#111" >HSiW</text>
<text transform="translate(155.5 9.2) scale(0.860 1)" style="font-family:'Liberation Serif',serif;font-size:9.8px;font-weight:normal" text-anchor="start" fill="#1a1a1a" >8.1</text>
<text transform="translate(169.6 19.0) scale(0.860 1)" style="font-family:'Liberation Serif',serif;font-size:9.8px;font-weight:normal" text-anchor="start" fill="#1a1a1a" >5.2</text>
<text transform="translate(142.6 40.5) scale(0.860 1)" style="font-family:'Liberation Serif',serif;font-size:9.8px;font-weight:normal" text-anchor="start" fill="#1a1a1a" >8.9</text>
<text transform="translate(167.8 58.0) scale(0.860 1)" style="font-family:'Liberation Serif',serif;font-size:9.8px;font-weight:normal" text-anchor="start" fill="#1a1a1a" >3.7</text>
<text transform="translate(191.3 54.2) scale(0.860 1)" style="font-family:'Liberation Serif',serif;font-size:9.8px;font-weight:normal" text-anchor="start" fill="#1a1a1a" >1.9</text>
<text transform="translate(192.0 66.5) scale(0.860 1)" style="font-family:'Liberation Serif',serif;font-size:9.8px;font-weight:normal" text-anchor="start" fill="#1a1a1a" >1.1</text>
<text transform="translate(149.0 77.7) scale(0.860 1)" style="font-family:'Liberation Serif',serif;font-size:9.8px;font-weight:normal" text-anchor="start" fill="#1a1a1a" >8.1</text>
<text transform="translate(158.8 85.5) scale(0.860 1)" style="font-family:'Liberation Serif',serif;font-size:9.8px;font-weight:normal" text-anchor="start" fill="#1a1a1a" >7.5</text>
<text transform="translate(184.6 89.3) scale(0.860 1)" style="font-family:'Liberation Serif',serif;font-size:9.8px;font-weight:normal" text-anchor="start" fill="#1a1a1a" >5.3</text>
<text transform="translate(161.4 122.6) scale(0.860 1)" style="font-family:'Liberation Serif',serif;font-size:9.8px;font-weight:normal" text-anchor="start" fill="#1a1a1a" >6.9</text>
<text transform="translate(100.0 138.4) scale(0.860 1)" style="font-family:'Liberation Serif',serif;font-size:9.8px;font-weight:normal" text-anchor="start" fill="#1a1a1a" >7.8</text>
<text transform="translate(153.3 166.0) scale(0.860 1)" style="font-family:'Liberation Serif',serif;font-size:9.8px;font-weight:normal" text-anchor="start" fill="#1a1a1a" >8.9</text>
<text transform="translate(157.7 200.3) scale(0.860 1)" style="font-family:'Liberation Serif',serif;font-size:9.8px;font-weight:normal" text-anchor="start" fill="#1a1a1a" >6.6</text>
<text transform="translate(187.4 211.9) scale(0.860 1)" style="font-family:'Liberation Serif',serif;font-size:9.8px;font-weight:normal" text-anchor="start" fill="#1a1a1a" >1.6</text>
<text transform="translate(113.6 239.8) scale(0.860 1)" style="font-family:'Liberation Serif',serif;font-size:9.8px;font-weight:normal" text-anchor="start" fill="#1a1a1a" >9.1</text>
<line x1="139.0" y1="3.0" x2="155.0" y2="5.5" stroke="#333" stroke-width="1" stroke-dasharray="1.3 1.3"/>
<line x1="158.0" y1="15.5" x2="168.0" y2="15.5" stroke="#333" stroke-width="1" stroke-dasharray="1.3 1.3"/>
<line x1="133.0" y1="41.0" x2="142.0" y2="37.0" stroke="#333" stroke-width="1" stroke-dasharray="1.3 1.3"/>
<line x1="164.2" y1="65.2" x2="175.2" y2="62.0" stroke="#333" stroke-width="1" stroke-dasharray="1.3 1.3"/>
<line x1="177.1" y1="63.9" x2="192.6" y2="56.1" stroke="#333" stroke-width="1" stroke-dasharray="1.3 1.3"/>
<line x1="181.6" y1="69.0" x2="192.0" y2="65.2" stroke="#333" stroke-width="1" stroke-dasharray="1.3 1.3"/>
<line x1="138.0" y1="81.0" x2="149.5" y2="74.5" stroke="#333" stroke-width="1" stroke-dasharray="1.3 1.3"/>
<line x1="142.0" y1="83.3" x2="153.0" y2="83.3" stroke="#333" stroke-width="1" stroke-dasharray="1.3 1.3"/>
<line x1="160.0" y1="89.5" x2="182.0" y2="86.5" stroke="#333" stroke-width="1" stroke-dasharray="1.3 1.3"/>
<line x1="146.0" y1="119.0" x2="155.0" y2="119.0" stroke="#333" stroke-width="1" stroke-dasharray="1.3 1.3"/>
<line x1="116.0" y1="132.7" x2="138.7" y2="137.9" stroke="#333" stroke-width="1" stroke-dasharray="1.3 1.3"/>
<line x1="134.0" y1="161.0" x2="153.0" y2="163.0" stroke="#333" stroke-width="1" stroke-dasharray="1.3 1.3"/>
<line x1="148.0" y1="198.5" x2="158.0" y2="197.5" stroke="#333" stroke-width="1" stroke-dasharray="1.3 1.3"/>
<line x1="173.0" y1="216.0" x2="187.0" y2="209.0" stroke="#333" stroke-width="1" stroke-dasharray="1.3 1.3"/>
<text transform="translate(5.5 290.0) scale(0.880 1)" style="font-family:'Liberation Serif',serif;font-size:12.5px;font-weight:bold" text-anchor="middle" fill="#111" >30</text>
<text transform="translate(66.0 290.0) scale(0.880 1)" style="font-family:'Liberation Serif',serif;font-size:12.5px;font-weight:bold" text-anchor="middle" fill="#111" >20</text>
<text transform="translate(126.6 290.0) scale(0.880 1)" style="font-family:'Liberation Serif',serif;font-size:12.5px;font-weight:bold" text-anchor="middle" fill="#111" >10</text>
<text transform="translate(187.2 290.0) scale(0.880 1)" style="font-family:'Liberation Serif',serif;font-size:12.5px;font-weight:bold" text-anchor="middle" fill="#111" >0</text>
<text transform="translate(247.8 290.0) scale(0.880 1)" style="font-family:'Liberation Serif',serif;font-size:12.5px;font-weight:bold" text-anchor="middle" fill="#111" >-10</text>
<text transform="translate(308.4 290.0) scale(0.880 1)" style="font-family:'Liberation Serif',serif;font-size:12.5px;font-weight:bold" text-anchor="middle" fill="#111" >-20</text>
<text transform="translate(134.5 300.9) scale(1.000 1)" style="font-family:'Liberation Serif',serif;font-size:14.0px;font-weight:bold" text-anchor="start" fill="#111" >&#948; (ppm)</text>
<line x1="359" y1="1.5" x2="359" y2="274" stroke="#777" stroke-width="1.6"/>
<path d="M359 1.5 H658.8 V269.6 H359" fill="none" stroke="#1e1e1e" stroke-width="1.3"/>
<rect x="490.5" y="266" width="7.5" height="7" fill="#fff"/>
<line x1="488.6" y1="274.7" x2="494.8" y2="264.3" stroke="#1e1e1e" stroke-width="1.4"/>
<line x1="493.9" y1="274.7" x2="500" y2="264.3" stroke="#1e1e1e" stroke-width="1.4"/>
<line x1="384.5" y1="269.6" x2="384.5" y2="271.8" stroke="#222" stroke-width="1.1"/>
<line x1="410.5" y1="269.6" x2="410.5" y2="274.1" stroke="#222" stroke-width="1.1"/>
<line x1="436.5" y1="269.6" x2="436.5" y2="271.8" stroke="#222" stroke-width="1.1"/>
<line x1="461.5" y1="269.6" x2="461.5" y2="274.1" stroke="#222" stroke-width="1.1"/>
<line x1="487.5" y1="269.6" x2="487.5" y2="271.8" stroke="#222" stroke-width="1.1"/>
<line x1="508.5" y1="269.6" x2="508.5" y2="274.1" stroke="#222" stroke-width="1.1"/>
<line x1="548.5" y1="269.6" x2="548.5" y2="271.8" stroke="#222" stroke-width="1.1"/>
<line x1="589.5" y1="269.6" x2="589.5" y2="274.1" stroke="#222" stroke-width="1.1"/>
<line x1="630.5" y1="269.6" x2="630.5" y2="271.8" stroke="#222" stroke-width="1.1"/>
<text transform="translate(358.9 288.6) scale(0.880 1)" style="font-family:'Liberation Serif',serif;font-size:12.5px;font-weight:bold" text-anchor="middle" fill="#111" >3500</text>
<text transform="translate(410.3 288.6) scale(0.880 1)" style="font-family:'Liberation Serif',serif;font-size:12.5px;font-weight:bold" text-anchor="middle" fill="#111" >3150</text>
<text transform="translate(461.7 288.6) scale(0.880 1)" style="font-family:'Liberation Serif',serif;font-size:12.5px;font-weight:bold" text-anchor="middle" fill="#111" >2800</text>
<text transform="translate(508.0 288.6) scale(0.880 1)" style="font-family:'Liberation Serif',serif;font-size:12.5px;font-weight:bold" text-anchor="middle" fill="#111" >1750</text>
<text transform="translate(589.8 288.6) scale(0.880 1)" style="font-family:'Liberation Serif',serif;font-size:12.5px;font-weight:bold" text-anchor="middle" fill="#111" >1400</text>
<text transform="translate(450.5 306.2) scale(0.946 1)" style="font-family:'Liberation Serif',serif;font-size:15.5px;font-weight:bold" text-anchor="start" fill="#111" >Wavenumbers (cm<tspan baseline-shift="super" font-size="70%">-1</tspan>)</text>
<text transform="translate(348.5 129.1) rotate(-90) scale(1 0.880)" style="font-family:'Liberation Serif',serif;font-size:16.4px;font-weight:bold" text-anchor="middle" fill="#111" >Absorbance (a. u.)</text>
<text transform="translate(362.4 25.8) scale(0.880 1)" style="font-family:'Liberation Serif',serif;font-size:17.0px;font-weight:normal" text-anchor="start" fill="#111" >(b)</text>
<line x1="398.5" y1="66.0" x2="398.5" y2="229.2" stroke="#777" stroke-width="1" stroke-dasharray="2 2"/>
<line x1="427.5" y1="66.0" x2="427.5" y2="229.2" stroke="#777" stroke-width="1" stroke-dasharray="2 2"/>
<line x1="460.5" y1="75.0" x2="460.5" y2="237.6" stroke="#777" stroke-width="1" stroke-dasharray="2 2"/>
<line x1="526.5" y1="56.0" x2="526.5" y2="246.5" stroke="#777" stroke-width="1" stroke-dasharray="2 2"/>
<line x1="539.5" y1="76.0" x2="539.5" y2="246.5" stroke="#777" stroke-width="1" stroke-dasharray="2 2"/>
<line x1="582.5" y1="58.5" x2="582.5" y2="247.8" stroke="#777" stroke-width="1" stroke-dasharray="2 2"/>
<line x1="620.5" y1="72.0" x2="620.5" y2="251.0" stroke="#7a98c8" stroke-width="1" stroke-dasharray="2 2"/>
<path d="M359.8 103.5 L360.3 103.5 L360.8 103.5 L361.3 103.4 L361.8 103.3 L362.3 103.2 L362.8 103.1 L363.3 103.0 L363.8 102.8 L364.3 102.6 L364.8 102.4 L365.3 102.3 L365.8 102.0 L366.3 101.8 L366.8 101.6 L367.3 101.4 L367.8 101.1 L368.3 100.9 L368.8 100.6 L369.3 100.4 L369.8 100.1 L370.3 99.8 L370.8 99.5 L371.3 99.1 L371.8 98.7 L372.3 98.2 L372.8 97.7 L373.3 97.2 L373.8 96.7 L374.3 96.1 L374.8 95.5 L375.3 95.0 L375.8 94.4 L376.3 93.8 L376.8 93.2 L377.3 92.7 L377.8 92.1 L378.3 91.5 L378.8 91.0 L379.3 90.5 L379.8 90.0 L380.3 89.5 L380.8 89.0 L381.3 88.5 L381.8 88.1 L382.3 87.6 L382.8 87.1 L383.3 86.6 L383.8 86.1 L384.3 85.6 L384.8 85.1 L385.3 84.6 L385.8 84.1 L386.3 83.6 L386.8 83.0 L387.3 82.5 L387.8 81.9 L388.3 81.2 L388.8 80.5 L389.3 79.8 L389.8 79.1 L390.3 78.4 L390.8 77.8 L391.3 77.3 L391.8 76.9 L392.3 76.6 L392.8 76.4 L393.3 76.1 L393.8 75.8 L394.3 75.6 L394.8 75.4 L395.3 75.2 L395.8 75.0 L396.3 74.8 L396.8 74.7 L397.3 74.6 L397.8 74.5 L398.3 74.5 L398.8 74.5 L399.3 74.5 L399.8 74.6 L400.3 74.6 L400.8 74.7 L401.3 74.8 L401.8 74.9 L402.3 75.0 L402.8 75.1 L403.3 75.2 L403.8 75.4 L404.3 75.5 L404.8 75.6 L405.3 75.8 L405.8 75.9 L406.3 76.0 L406.8 76.2 L407.3 76.3 L407.8 76.5 L408.3 76.7 L408.8 76.9 L409.3 77.1 L409.8 77.3 L410.3 77.6 L410.8 77.8 L411.3 78.1 L411.8 78.3 L412.3 78.6 L412.8 78.8 L413.3 79.1 L413.8 79.3 L414.3 79.6 L414.8 79.8 L415.3 80.0 L415.8 80.2 L416.3 80.4 L416.8 80.6 L417.3 80.7 L417.8 80.8 L418.3 80.9 L418.8 81.0 L419.3 81.0 L419.8 81.0 L420.3 81.0 L420.8 80.9 L421.3 80.8 L421.8 80.7 L422.3 80.6 L422.8 80.5 L423.3 80.4 L423.8 80.3 L424.3 80.2 L424.8 80.1 L425.3 80.1 L425.8 80.0 L426.3 80.0 L426.8 80.0 L427.3 80.0 L427.8 80.1 L428.3 80.2 L428.8 80.3 L429.3 80.4 L429.8 80.6 L430.3 80.7 L430.8 80.8 L431.3 81.1 L431.8 81.3 L432.3 81.6 L432.8 81.8 L433.3 82.2 L433.8 82.5 L434.3 82.8 L434.8 83.2 L435.3 83.5 L435.8 83.8 L436.3 84.2 L436.8 84.5 L437.3 84.8 L437.8 85.1 L438.3 85.4 L438.8 85.7 L439.3 86.1 L439.8 86.4 L440.3 86.7 L440.8 87.0 L441.3 87.4 L441.8 87.7 L442.3 88.0 L442.8 88.3 L443.3 88.6 L443.8 88.9 L444.3 89.1 L444.8 89.3 L445.3 89.5 L445.8 89.7 L446.3 89.8 L446.8 90.0 L447.3 90.1 L447.8 90.3 L448.3 90.4 L448.8 90.6 L449.3 90.7 L449.8 90.8 L450.3 90.9 L450.8 91.0 L451.3 91.1 L451.8 91.2 L452.3 91.3 L452.8 91.4 L453.3 91.4 L453.8 91.5 L454.3 91.5 L454.8 91.5 L455.3 91.5 L455.8 91.4 L456.3 91.2 L456.8 91.0 L457.3 90.8 L457.8 90.5 L458.3 90.3 L458.8 90.1 L459.3 89.9 L459.8 89.8 L460.3 89.7 L460.8 89.7 L461.3 89.8 L461.8 90.0 L462.3 90.2 L462.8 90.5 L463.3 90.8 L463.8 91.1 L464.3 91.5 L464.8 91.8 L465.3 92.1 L465.8 92.4 L466.3 92.7 L466.8 93.0 L467.3 93.2 L467.8 93.5 L468.3 93.7 L468.8 94.0 L469.3 94.3 L469.8 94.5 L470.3 94.8 L470.8 95.0 L471.3 95.3 L471.8 95.5 L472.3 95.7 L472.8 96.0 L473.3 96.2 L473.8 96.4 L474.3 96.6 L474.8 96.8 L475.3 97.0 L475.8 97.1 L476.3 97.3 L476.8 97.4 L477.3 97.6 L477.8 97.7 L478.3 97.9 L478.8 98.0 L479.3 98.1 L479.8 98.3 L480.3 98.4 L480.8 98.5 L481.3 98.6 L481.8 98.8 L482.3 98.9 L482.8 99.0 L483.3 99.2 L483.8 99.3 L484.3 99.4 L484.8 99.6 L485.3 99.7 L485.8 99.9 L486.3 100.0 L486.8 100.2 L487.3 100.3 L487.8 100.4 L488.3 100.6 L488.8 100.7 L489.3 100.9 L489.8 101.0 L490.3 101.2 L490.8 101.3 L491.0 101.4" fill="none" stroke="#1CA2BD" stroke-width="2" stroke-linejoin="round"/>
<path d="M497.3 96.9 L497.8 96.9 L498.3 96.8 L498.8 96.8 L499.3 96.8 L499.8 96.7 L500.3 96.7 L500.8 96.6 L501.3 96.6 L501.8 96.5 L502.3 96.4 L502.8 96.4 L503.3 96.3 L503.8 96.2 L504.3 96.1 L504.8 96.0 L505.3 96.0 L505.8 95.9 L506.3 95.8 L506.8 95.7 L507.3 95.6 L507.8 95.5 L508.3 95.4 L508.8 95.3 L509.3 95.2 L509.8 95.1 L510.3 95.0 L510.8 94.9 L511.3 94.8 L511.8 94.6 L512.3 94.5 L512.8 94.3 L513.3 94.1 L513.8 93.9 L514.3 93.7 L514.8 93.4 L515.3 93.2 L515.8 93.0 L516.3 92.7 L516.8 92.5 L517.3 92.2 L517.8 91.9 L518.3 91.7 L518.8 91.4 L519.3 91.2 L519.8 91.0 L520.3 90.7 L520.8 90.5 L521.3 90.3 L521.8 90.1 L522.3 89.9 L522.8 89.8 L523.3 89.6 L523.8 89.5 L524.3 89.4 L524.8 89.3 L525.3 89.2 L525.8 89.2 L526.3 89.2 L526.8 89.2 L527.3 89.2 L527.8 89.3 L528.3 89.3 L528.8 89.4 L529.3 89.5 L529.8 89.6 L530.3 89.6 L530.8 89.7 L531.3 89.8 L531.8 89.9 L532.3 90.0 L532.8 90.0 L533.3 90.1 L533.8 90.1 L534.3 90.2 L534.8 90.2 L535.3 90.2 L535.8 90.2 L536.3 90.1 L536.8 90.0 L537.3 89.9 L537.8 89.8 L538.3 89.7 L538.8 89.5 L539.3 89.3 L539.8 89.2 L540.3 89.0 L540.8 88.9 L541.3 88.7 L541.8 88.6 L542.3 88.5 L542.8 88.5 L543.3 88.4 L543.8 88.4 L544.3 88.4 L544.8 88.5 L545.3 88.7 L545.8 88.8 L546.3 89.0 L546.8 89.2 L547.3 89.4 L547.8 89.7 L548.3 89.9 L548.8 90.1 L549.3 90.4 L549.8 90.5 L550.3 90.7 L550.8 90.9 L551.3 90.9 L551.8 91.0 L552.3 91.0 L552.8 91.0 L553.3 90.9 L553.8 90.9 L554.3 90.8 L554.8 90.8 L555.3 90.7 L555.8 90.6 L556.3 90.5 L556.8 90.4 L557.3 90.3 L557.8 90.1 L558.3 90.0 L558.8 89.9 L559.3 89.7 L559.8 89.6 L560.3 89.4 L560.8 89.2 L561.3 89.0 L561.8 88.7 L562.3 88.4 L562.8 88.0 L563.3 87.7 L563.8 87.3 L564.3 86.9 L564.8 86.4 L565.3 85.9 L565.8 85.5 L566.3 85.0 L566.8 84.5 L567.3 83.9 L567.8 83.4 L568.3 82.8 L568.8 82.2 L569.3 81.5 L569.8 80.7 L570.3 79.9 L570.8 79.1 L571.3 78.2 L571.8 77.3 L572.3 76.3 L572.8 75.3 L573.3 74.4 L573.8 73.4 L574.3 72.4 L574.8 71.4 L575.3 70.4 L575.8 69.4 L576.3 68.2 L576.8 67.0 L577.3 65.7 L577.8 64.5 L578.3 63.2 L578.8 62.0 L579.3 60.9 L579.8 60.0 L580.3 59.3 L580.8 58.7 L581.3 58.1 L581.8 57.5 L582.3 57.0 L582.8 56.5 L583.3 56.1 L583.8 55.8 L584.3 55.6 L584.8 55.5 L585.3 55.6 L585.8 55.7 L586.3 56.0 L586.8 56.3 L587.3 56.7 L587.8 57.2 L588.3 57.7 L588.8 58.2 L589.3 58.8 L589.8 59.6 L590.3 60.6 L590.8 61.8 L591.3 63.1 L591.8 64.4 L592.3 65.6 L592.8 66.8 L593.3 67.9 L593.8 68.9 L594.3 70.0 L594.8 71.1 L595.3 72.2 L595.8 73.3 L596.3 74.3 L596.8 75.2 L597.3 76.1 L597.8 77.0 L598.3 77.8 L598.8 78.6 L599.3 79.4 L599.8 80.2 L600.3 80.9 L600.8 81.6 L601.3 82.3 L601.8 82.9 L602.3 83.5 L602.8 84.0 L603.3 84.4 L603.8 84.7 L604.3 85.0 L604.8 85.3 L605.3 85.6 L605.8 85.9 L606.3 86.2 L606.8 86.5 L607.3 86.7 L607.8 86.9 L608.3 87.1 L608.8 87.2 L609.3 87.3 L609.8 87.4 L610.3 87.4 L610.8 87.4 L611.3 87.4 L611.8 87.3 L612.3 87.2 L612.8 87.1 L613.3 87.0 L613.8 86.9 L614.3 86.8 L614.8 86.6 L615.3 86.5 L615.8 86.3 L616.3 86.1 L616.8 86.0 L617.3 85.8 L617.8 85.6 L618.3 85.4 L618.8 85.1 L619.3 84.8 L619.8 84.4 L620.3 84.0 L620.8 83.5 L621.3 83.0 L621.8 82.5 L622.3 82.1 L622.8 81.6 L623.3 81.1 L623.8 80.6 L624.3 80.1 L624.8 79.6 L625.3 79.0 L625.8 78.4 L626.3 77.8 L626.8 77.3 L627.3 76.8 L627.8 76.3 L628.3 76.0 L628.8 75.8 L629.3 75.6 L629.8 75.4 L630.3 75.2 L630.8 75.1 L631.3 74.9 L631.8 74.8 L632.3 74.8 L632.8 74.8 L633.3 74.9 L633.8 74.9 L634.3 75.0 L634.8 75.1 L635.3 75.3 L635.8 75.4 L636.3 75.5 L636.8 75.6 L637.3 75.7 L637.8 75.8 L638.3 75.8 L638.8 75.8 L639.3 75.7 L639.8 75.6 L640.3 75.4 L640.8 75.2 L641.3 75.0 L641.8 74.8 L642.3 74.5 L642.8 74.2 L643.3 73.9 L643.8 73.6 L644.3 73.4 L644.8 73.1 L645.3 72.8 L645.8 72.5 L646.3 72.2 L646.8 71.8 L647.3 71.4 L647.8 71.1 L648.3 70.6 L648.8 70.2 L649.3 69.8 L649.8 69.4 L650.3 69.0 L650.8 68.6 L651.3 68.2 L651.8 67.8 L652.3 67.4 L652.8 67.0 L653.3 66.6 L653.8 66.3 L654.3 65.9 L654.8 65.6 L655.3 65.3 L655.8 64.9 L656.3 64.6 L656.8 64.3 L657.3 63.9 L657.8 63.6 L658.0 63.5" fill="none" stroke="#1CA2BD" stroke-width="2" stroke-linejoin="round"/>
<path d="M359.0 165.6 L359.5 165.5 L360.0 165.3 L360.5 165.2 L361.0 165.0 L361.5 164.9 L362.0 164.7 L362.5 164.5 L363.0 164.3 L363.5 164.2 L364.0 164.0 L364.5 163.8 L365.0 163.6 L365.5 163.4 L366.0 163.2 L366.5 162.9 L367.0 162.7 L367.5 162.5 L368.0 162.2 L368.5 162.0 L369.0 161.7 L369.5 161.4 L370.0 161.1 L370.5 160.9 L371.0 160.6 L371.5 160.3 L372.0 159.9 L372.5 159.6 L373.0 159.3 L373.5 159.0 L374.0 158.6 L374.5 158.3 L375.0 157.9 L375.5 157.5 L376.0 157.1 L376.5 156.7 L377.0 156.2 L377.5 155.8 L378.0 155.3 L378.5 154.8 L379.0 154.2 L379.5 153.6 L380.0 153.0 L380.5 152.2 L381.0 151.3 L381.5 150.4 L382.0 149.4 L382.5 148.4 L383.0 147.4 L383.5 146.4 L384.0 145.5 L384.5 144.5 L385.0 143.7 L385.5 142.9 L386.0 142.1 L386.5 141.3 L387.0 140.5 L387.5 139.7 L388.0 138.9 L388.5 138.2 L389.0 137.5 L389.5 137.0 L390.0 136.6 L390.5 136.3 L391.0 136.1 L391.5 135.9 L392.0 135.8 L392.5 135.7 L393.0 135.6 L393.5 135.5 L394.0 135.5 L394.5 135.4 L395.0 135.4 L395.5 135.3 L396.0 135.3 L396.5 135.3 L397.0 135.2 L397.5 135.2 L398.0 135.2 L398.5 135.2 L399.0 135.2 L399.5 135.3 L400.0 135.3 L400.5 135.4 L401.0 135.5 L401.5 135.6 L402.0 135.7 L402.5 135.9 L403.0 136.0 L403.5 136.2 L404.0 136.3 L404.5 136.5 L405.0 136.6 L405.5 136.8 L406.0 136.9 L406.5 137.1 L407.0 137.4 L407.5 137.6 L408.0 137.9 L408.5 138.1 L409.0 138.4 L409.5 138.6 L410.0 138.8 L410.5 139.1 L411.0 139.3 L411.5 139.5 L412.0 139.7 L412.5 139.9 L413.0 140.1 L413.5 140.4 L414.0 140.6 L414.5 140.8 L415.0 141.0 L415.5 141.2 L416.0 141.4 L416.5 141.5 L417.0 141.7 L417.5 141.8 L418.0 141.9 L418.5 141.9 L419.0 141.9 L419.5 141.9 L420.0 141.8 L420.5 141.8 L421.0 141.8 L421.5 141.7 L422.0 141.7 L422.5 141.6 L423.0 141.6 L423.5 141.5 L424.0 141.5 L424.5 141.5 L425.0 141.5 L425.5 141.6 L426.0 141.6 L426.5 141.7 L427.0 141.8 L427.5 141.9 L428.0 142.0 L428.5 142.2 L429.0 142.4 L429.5 142.7 L430.0 143.0 L430.5 143.4 L431.0 143.8 L431.5 144.1 L432.0 144.5 L432.5 144.9 L433.0 145.3 L433.5 145.7 L434.0 146.0 L434.5 146.3 L435.0 146.7 L435.5 147.0 L436.0 147.4 L436.5 147.7 L437.0 148.1 L437.5 148.4 L438.0 148.8 L438.5 149.1 L439.0 149.5 L439.5 149.8 L440.0 150.2 L440.5 150.5 L441.0 150.8 L441.5 151.1 L442.0 151.4 L442.5 151.7 L443.0 151.9 L443.5 152.1 L444.0 152.3 L444.5 152.5 L445.0 152.7 L445.5 152.8 L446.0 153.0 L446.5 153.2 L447.0 153.4 L447.5 153.5 L448.0 153.7 L448.5 153.8 L449.0 154.0 L449.5 154.1 L450.0 154.2 L450.5 154.4 L451.0 154.5 L451.5 154.6 L452.0 154.7 L452.5 154.7 L453.0 154.8 L453.5 154.8 L454.0 154.9 L454.5 154.9 L455.0 154.9 L455.5 154.8 L456.0 154.7 L456.5 154.5 L457.0 154.2 L457.5 154.0 L458.0 153.8 L458.5 153.5 L459.0 153.3 L459.5 153.2 L460.0 153.1 L460.5 153.1 L461.0 153.2 L461.5 153.3 L462.0 153.5 L462.5 153.7 L463.0 153.9 L463.5 154.2 L464.0 154.6 L464.5 154.9 L465.0 155.3 L465.5 155.7 L466.0 156.1 L466.5 156.6 L467.0 157.0 L467.5 157.5 L468.0 157.9 L468.5 158.3 L469.0 158.8 L469.5 159.2 L470.0 159.6 L470.5 160.0 L471.0 160.4 L471.5 160.7 L472.0 161.0 L472.5 161.3 L473.0 161.5 L473.5 161.7 L474.0 161.9 L474.5 162.2 L475.0 162.4 L475.5 162.6 L476.0 162.8 L476.5 163.1 L477.0 163.3 L477.5 163.5 L478.0 163.7 L478.5 163.9 L479.0 164.1 L479.5 164.3 L480.0 164.5 L480.5 164.7 L481.0 164.9 L481.5 165.1 L482.0 165.3 L482.5 165.5 L483.0 165.6 L483.5 165.8 L484.0 166.0 L484.5 166.1 L485.0 166.3 L485.5 166.4 L486.0 166.6 L486.5 166.7 L487.0 166.8 L487.5 167.0 L488.0 167.1 L488.5 167.2 L489.0 167.3 L489.5 167.4 L490.0 167.5 L490.5 167.6 L491.0 167.7" fill="none" stroke="#2E9D4E" stroke-width="2" stroke-linejoin="round"/>
<path d="M497.4 157.6 L497.9 157.5 L498.4 157.5 L498.9 157.4 L499.4 157.4 L499.9 157.3 L500.4 157.2 L500.9 157.1 L501.4 157.1 L501.9 157.0 L502.4 156.9 L502.9 156.8 L503.4 156.7 L503.9 156.6 L504.4 156.5 L504.9 156.4 L505.4 156.3 L505.9 156.2 L506.4 156.1 L506.9 156.0 L507.4 155.9 L507.9 155.8 L508.4 155.7 L508.9 155.5 L509.4 155.4 L509.9 155.3 L510.4 155.1 L510.9 155.0 L511.4 154.8 L511.9 154.7 L512.4 154.5 L512.9 154.3 L513.4 154.2 L513.9 154.0 L514.4 153.8 L514.9 153.7 L515.4 153.5 L515.9 153.3 L516.4 153.2 L516.9 153.0 L517.4 152.9 L517.9 152.7 L518.4 152.5 L518.9 152.4 L519.4 152.2 L519.9 152.0 L520.4 151.8 L520.9 151.5 L521.4 151.3 L521.9 151.1 L522.4 150.9 L522.9 150.7 L523.4 150.5 L523.9 150.3 L524.4 150.1 L524.9 150.0 L525.4 149.9 L525.9 149.8 L526.4 149.7 L526.9 149.7 L527.4 149.7 L527.9 149.7 L528.4 149.7 L528.9 149.7 L529.4 149.7 L529.9 149.7 L530.4 149.7 L530.9 149.7 L531.4 149.7 L531.9 149.7 L532.4 149.7 L532.9 149.7 L533.4 149.7 L533.9 149.7 L534.4 149.7 L534.9 149.7 L535.4 149.7 L535.9 149.7 L536.4 149.7 L536.9 149.7 L537.4 149.7 L537.9 149.7 L538.4 149.7 L538.9 149.7 L539.4 149.7 L539.9 149.8 L540.4 149.9 L540.9 150.0 L541.4 150.1 L541.9 150.2 L542.4 150.3 L542.9 150.4 L543.4 150.6 L543.9 150.7 L544.4 150.8 L544.9 150.9 L545.4 151.0 L545.9 151.1 L546.4 151.2 L546.9 151.2 L547.4 151.2 L547.9 151.2 L548.4 151.2 L548.9 151.1 L549.4 151.1 L549.9 151.0 L550.4 151.0 L550.9 150.9 L551.4 150.8 L551.9 150.7 L552.4 150.6 L552.9 150.5 L553.4 150.4 L553.9 150.3 L554.4 150.1 L554.9 150.0 L555.4 149.9 L555.9 149.7 L556.4 149.6 L556.9 149.3 L557.4 149.0 L557.9 148.7 L558.4 148.3 L558.9 147.8 L559.4 147.4 L559.9 146.9 L560.4 146.3 L560.9 145.8 L561.4 145.2 L561.9 144.6 L562.4 144.0 L562.9 143.4 L563.4 142.9 L563.9 142.2 L564.4 141.6 L564.9 140.9 L565.4 140.1 L565.9 139.4 L566.4 138.6 L566.9 137.8 L567.4 137.0 L567.9 136.1 L568.4 135.3 L568.9 134.6 L569.4 133.8 L569.9 133.0 L570.4 132.3 L570.9 131.5 L571.4 130.8 L571.9 130.0 L572.4 129.2 L572.9 128.4 L573.4 127.6 L573.9 126.8 L574.4 125.9 L574.9 125.0 L575.4 124.0 L575.9 122.8 L576.4 121.6 L576.9 120.3 L577.4 119.1 L577.9 117.9 L578.4 116.9 L578.9 116.1 L579.4 115.4 L579.9 114.7 L580.4 114.0 L580.9 113.4 L581.4 112.9 L581.9 112.6 L582.4 112.3 L582.9 112.3 L583.4 112.4 L583.9 112.7 L584.4 113.1 L584.9 113.5 L585.4 114.0 L585.9 114.5 L586.4 115.0 L586.9 115.5 L587.4 116.2 L587.9 116.9 L588.4 117.8 L588.9 118.7 L589.4 119.6 L589.9 120.6 L590.4 121.5 L590.9 122.5 L591.4 123.3 L591.9 124.1 L592.4 124.8 L592.9 125.4 L593.4 126.1 L593.9 126.8 L594.4 127.5 L594.9 128.1 L595.4 128.8 L595.9 129.4 L596.4 130.0 L596.9 130.6 L597.4 131.1 L597.9 131.6 L598.4 131.9 L598.9 132.3 L599.4 132.5 L599.9 132.6 L600.4 132.6 L600.9 132.5 L601.4 132.4 L601.9 132.2 L602.4 131.9 L602.9 131.6 L603.4 131.3 L603.9 130.9 L604.4 130.4 L604.9 130.0 L605.4 129.5 L605.9 129.0 L606.4 128.4 L606.9 127.9 L607.4 127.3 L607.9 126.6 L608.4 125.7 L608.9 124.8 L609.4 123.7 L609.9 122.6 L610.4 121.4 L610.9 120.1 L611.4 118.9 L611.9 117.6 L612.4 116.3 L612.9 115.1 L613.4 113.9 L613.9 112.7 L614.4 111.5 L614.9 110.2 L615.4 108.8 L615.9 107.4 L616.4 106.1 L616.9 104.8 L617.4 103.7 L617.9 102.7 L618.4 101.9 L618.9 101.2 L619.4 100.6 L619.9 100.0 L620.4 99.5 L620.9 99.1 L621.4 98.8 L621.9 98.7 L622.4 98.8 L622.9 99.2 L623.4 99.7 L623.9 100.3 L624.4 101.0 L624.9 101.6 L625.4 102.1 L625.9 102.6 L626.4 103.1 L626.9 103.6 L627.4 104.1 L627.9 104.6 L628.4 105.1 L628.9 105.6 L629.4 106.1 L629.9 106.6 L630.4 107.1 L630.9 107.5 L631.4 108.0 L631.9 108.4 L632.4 108.9 L632.9 109.2 L633.4 109.6 L633.9 110.0 L634.4 110.3 L634.9 110.6 L635.4 110.9 L635.9 111.2 L636.4 111.5 L636.9 111.8 L637.4 112.1 L637.9 112.4 L638.4 112.7 L638.9 112.9 L639.4 113.3 L639.9 113.6 L640.4 113.9 L640.9 114.3 L641.4 114.6 L641.9 115.0 L642.4 115.4 L642.9 115.9 L643.4 116.3 L643.9 116.7 L644.4 117.2 L644.9 117.6 L645.4 118.1 L645.9 118.5 L646.4 119.0 L646.9 119.4 L647.4 119.9 L647.9 120.4 L648.4 120.8 L648.9 121.3 L649.4 121.7 L649.9 122.2 L650.4 122.6 L650.9 123.1 L651.4 123.5 L651.9 124.0 L652.4 124.5 L652.9 124.9 L653.4 125.4 L653.9 125.8 L654.4 126.3 L654.9 126.8 L655.4 127.2 L655.9 127.7 L656.4 128.2 L656.9 128.7 L657.4 129.1 L657.9 129.6 L658.0 129.7" fill="none" stroke="#2E9D4E" stroke-width="2" stroke-linejoin="round"/>
<path d="M359.0 185.4 L359.5 185.4 L360.0 185.4 L360.5 185.3 L361.0 185.3 L361.5 185.2 L362.0 185.2 L362.5 185.1 L363.0 185.0 L363.5 184.9 L364.0 184.8 L364.5 184.7 L365.0 184.6 L365.5 184.4 L366.0 184.3 L366.5 184.2 L367.0 184.0 L367.5 183.9 L368.0 183.8 L368.5 183.6 L369.0 183.4 L369.5 183.2 L370.0 182.9 L370.5 182.6 L371.0 182.3 L371.5 182.0 L372.0 181.6 L372.5 181.3 L373.0 180.9 L373.5 180.5 L374.0 180.1 L374.5 179.7 L375.0 179.3 L375.5 178.9 L376.0 178.5 L376.5 178.2 L377.0 177.8 L377.5 177.5 L378.0 177.1 L378.5 176.8 L379.0 176.5 L379.5 176.2 L380.0 175.9 L380.5 175.6 L381.0 175.3 L381.5 174.9 L382.0 174.5 L382.5 174.1 L383.0 173.6 L383.5 173.1 L384.0 172.4 L384.5 171.8 L385.0 171.0 L385.5 170.3 L386.0 169.5 L386.5 168.8 L387.0 168.0 L387.5 167.3 L388.0 166.7 L388.5 166.1 L389.0 165.5 L389.5 165.1 L390.0 164.7 L390.5 164.5 L391.0 164.3 L391.5 164.2 L392.0 164.0 L392.5 163.9 L393.0 163.7 L393.5 163.6 L394.0 163.5 L394.5 163.4 L395.0 163.3 L395.5 163.2 L396.0 163.1 L396.5 163.0 L397.0 163.0 L397.5 162.9 L398.0 162.9 L398.5 162.9 L399.0 162.9 L399.5 162.9 L400.0 163.0 L400.5 163.0 L401.0 163.1 L401.5 163.2 L402.0 163.3 L402.5 163.4 L403.0 163.6 L403.5 163.7 L404.0 163.8 L404.5 164.0 L405.0 164.1 L405.5 164.2 L406.0 164.4 L406.5 164.5 L407.0 164.7 L407.5 164.8 L408.0 164.9 L408.5 165.1 L409.0 165.2 L409.5 165.4 L410.0 165.6 L410.5 165.7 L411.0 165.9 L411.5 166.1 L412.0 166.3 L412.5 166.5 L413.0 166.8 L413.5 167.0 L414.0 167.1 L414.5 167.3 L415.0 167.5 L415.5 167.7 L416.0 167.8 L416.5 167.9 L417.0 168.0 L417.5 168.1 L418.0 168.2 L418.5 168.2 L419.0 168.2 L419.5 168.2 L420.0 168.2 L420.5 168.1 L421.0 168.1 L421.5 168.0 L422.0 168.0 L422.5 167.9 L423.0 167.9 L423.5 167.8 L424.0 167.8 L424.5 167.8 L425.0 167.7 L425.5 167.7 L426.0 167.7 L426.5 167.7 L427.0 167.8 L427.5 167.9 L428.0 168.1 L428.5 168.3 L429.0 168.5 L429.5 168.8 L430.0 169.0 L430.5 169.3 L431.0 169.6 L431.5 169.9 L432.0 170.1 L432.5 170.4 L433.0 170.6 L433.5 170.8 L434.0 171.0 L434.5 171.2 L435.0 171.3 L435.5 171.5 L436.0 171.6 L436.5 171.7 L437.0 171.9 L437.5 172.0 L438.0 172.1 L438.5 172.2 L439.0 172.4 L439.5 172.5 L440.0 172.6 L440.5 172.7 L441.0 172.8 L441.5 173.0 L442.0 173.1 L442.5 173.2 L443.0 173.4 L443.5 173.5 L444.0 173.6 L444.5 173.8 L445.0 174.0 L445.5 174.1 L446.0 174.3 L446.5 174.6 L447.0 174.8 L447.5 175.0 L448.0 175.2 L448.5 175.4 L449.0 175.7 L449.5 175.9 L450.0 176.1 L450.5 176.3 L451.0 176.5 L451.5 176.7 L452.0 176.8 L452.5 177.0 L453.0 177.1 L453.5 177.2 L454.0 177.3 L454.5 177.3 L455.0 177.3 L455.5 177.2 L456.0 177.1 L456.5 176.9 L457.0 176.6 L457.5 176.4 L458.0 176.2 L458.5 175.9 L459.0 175.7 L459.5 175.6 L460.0 175.5 L460.5 175.5 L461.0 175.6 L461.5 175.7 L462.0 175.8 L462.5 176.0 L463.0 176.2 L463.5 176.4 L464.0 176.6 L464.5 176.9 L465.0 177.2 L465.5 177.5 L466.0 177.9 L466.5 178.2 L467.0 178.6 L467.5 178.9 L468.0 179.3 L468.5 179.6 L469.0 179.9 L469.5 180.3 L470.0 180.6 L470.5 180.9 L471.0 181.2 L471.5 181.4 L472.0 181.7 L472.5 181.9 L473.0 182.0 L473.5 182.2 L474.0 182.4 L474.5 182.6 L475.0 182.7 L475.5 182.9 L476.0 183.1 L476.5 183.3 L477.0 183.4 L477.5 183.6 L478.0 183.8 L478.5 183.9 L479.0 184.1 L479.5 184.2 L480.0 184.4 L480.5 184.5 L481.0 184.7 L481.5 184.8 L482.0 185.0 L482.5 185.1 L483.0 185.2 L483.5 185.4 L484.0 185.5 L484.5 185.6 L485.0 185.7 L485.5 185.8 L486.0 186.0 L486.5 186.1 L487.0 186.2 L487.5 186.3 L488.0 186.4 L488.5 186.4 L489.0 186.5 L489.5 186.6 L490.0 186.7 L490.5 186.7 L491.0 186.8" fill="none" stroke="#CF3A4E" stroke-width="2" stroke-linejoin="round"/>
<path d="M497.0 185.2 L497.5 185.1 L498.0 185.1 L498.5 185.0 L499.0 185.0 L499.5 184.9 L500.0 184.8 L500.5 184.7 L501.0 184.7 L501.5 184.6 L502.0 184.5 L502.5 184.4 L503.0 184.3 L503.5 184.3 L504.0 184.2 L504.5 184.1 L505.0 184.0 L505.5 183.9 L506.0 183.8 L506.5 183.7 L507.0 183.6 L507.5 183.5 L508.0 183.4 L508.5 183.3 L509.0 183.2 L509.5 183.1 L510.0 183.0 L510.5 182.9 L511.0 182.8 L511.5 182.7 L512.0 182.5 L512.5 182.4 L513.0 182.3 L513.5 182.2 L514.0 182.0 L514.5 181.9 L515.0 181.8 L515.5 181.6 L516.0 181.5 L516.5 181.3 L517.0 181.2 L517.5 181.0 L518.0 180.9 L518.5 180.7 L519.0 180.5 L519.5 180.3 L520.0 180.0 L520.5 179.8 L521.0 179.5 L521.5 179.2 L522.0 178.9 L522.5 178.6 L523.0 178.3 L523.5 178.1 L524.0 177.8 L524.5 177.6 L525.0 177.4 L525.5 177.2 L526.0 177.1 L526.5 177.0 L527.0 177.0 L527.5 177.0 L528.0 177.1 L528.5 177.2 L529.0 177.3 L529.5 177.4 L530.0 177.5 L530.5 177.6 L531.0 177.7 L531.5 177.8 L532.0 177.9 L532.5 177.9 L533.0 177.9 L533.5 177.8 L534.0 177.7 L534.5 177.6 L535.0 177.4 L535.5 177.3 L536.0 177.1 L536.5 176.9 L537.0 176.8 L537.5 176.6 L538.0 176.5 L538.5 176.5 L539.0 176.5 L539.5 176.6 L540.0 176.6 L540.5 176.7 L541.0 176.9 L541.5 177.0 L542.0 177.1 L542.5 177.3 L543.0 177.4 L543.5 177.6 L544.0 177.7 L544.5 177.8 L545.0 177.9 L545.5 177.9 L546.0 177.9 L546.5 177.9 L547.0 177.9 L547.5 177.9 L548.0 177.8 L548.5 177.8 L549.0 177.7 L549.5 177.7 L550.0 177.6 L550.5 177.6 L551.0 177.5 L551.5 177.4 L552.0 177.3 L552.5 177.2 L553.0 177.1 L553.5 177.0 L554.0 176.9 L554.5 176.8 L555.0 176.7 L555.5 176.6 L556.0 176.5 L556.5 176.4 L557.0 176.2 L557.5 176.0 L558.0 175.8 L558.5 175.5 L559.0 175.2 L559.5 174.9 L560.0 174.6 L560.5 174.2 L561.0 173.9 L561.5 173.5 L562.0 173.1 L562.5 172.7 L563.0 172.3 L563.5 171.8 L564.0 171.3 L564.5 170.8 L565.0 170.2 L565.5 169.5 L566.0 168.8 L566.5 168.1 L567.0 167.4 L567.5 166.6 L568.0 165.8 L568.5 165.0 L569.0 164.2 L569.5 163.4 L570.0 162.7 L570.5 161.9 L571.0 161.1 L571.5 160.3 L572.0 159.5 L572.5 158.6 L573.0 157.7 L573.5 156.8 L574.0 156.0 L574.5 155.1 L575.0 154.2 L575.5 153.4 L576.0 152.6 L576.5 151.9 L577.0 151.2 L577.5 150.6 L578.0 150.1 L578.5 149.5 L579.0 149.0 L579.5 148.5 L580.0 147.9 L580.5 147.4 L581.0 147.0 L581.5 146.6 L582.0 146.3 L582.5 146.1 L583.0 146.0 L583.5 146.0 L584.0 146.2 L584.5 146.5 L585.0 146.9 L585.5 147.4 L586.0 148.0 L586.5 148.6 L587.0 149.2 L587.5 149.9 L588.0 150.7 L588.5 151.7 L589.0 152.8 L589.5 154.0 L590.0 155.3 L590.5 156.6 L591.0 157.9 L591.5 159.1 L592.0 160.3 L592.5 161.3 L593.0 162.2 L593.5 163.1 L594.0 163.9 L594.5 164.7 L595.0 165.5 L595.5 166.3 L596.0 167.0 L596.5 167.8 L597.0 168.4 L597.5 169.1 L598.0 169.7 L598.5 170.3 L599.0 170.8 L599.5 171.3 L600.0 171.8 L600.5 172.2 L601.0 172.7 L601.5 173.2 L602.0 173.6 L602.5 174.1 L603.0 174.5 L603.5 174.9 L604.0 175.3 L604.5 175.7 L605.0 176.0 L605.5 176.3 L606.0 176.6 L606.5 176.8 L607.0 176.9 L607.5 177.0 L608.0 177.0 L608.5 177.0 L609.0 177.0 L609.5 177.0 L610.0 177.0 L610.5 177.0 L611.0 177.0 L611.5 177.0 L612.0 177.0 L612.5 177.0 L613.0 177.0 L613.5 177.0 L614.0 177.0 L614.5 177.0 L615.0 177.0 L615.5 177.0 L616.0 177.0 L616.5 177.0 L617.0 176.9 L617.5 176.8 L618.0 176.6 L618.5 176.5 L619.0 176.2 L619.5 176.0 L620.0 175.8 L620.5 175.5 L621.0 175.3 L621.5 175.1 L622.0 174.8 L622.5 174.7 L623.0 174.5 L623.5 174.4 L624.0 174.3 L624.5 174.3 L625.0 174.3 L625.5 174.3 L626.0 174.3 L626.5 174.3 L627.0 174.3 L627.5 174.3 L628.0 174.3 L628.5 174.3 L629.0 174.3 L629.5 174.3 L630.0 174.3 L630.5 174.3 L631.0 174.3 L631.5 174.3 L632.0 174.3 L632.5 174.3 L633.0 174.3 L633.5 174.3 L634.0 174.2 L634.5 174.1 L635.0 174.0 L635.5 173.9 L636.0 173.7 L636.5 173.6 L637.0 173.4 L637.5 173.2 L638.0 173.0 L638.5 172.7 L639.0 172.5 L639.5 172.3 L640.0 172.0 L640.5 171.8 L641.0 171.5 L641.5 171.3 L642.0 171.0 L642.5 170.7 L643.0 170.5 L643.5 170.2 L644.0 170.0 L644.5 169.7 L645.0 169.4 L645.5 169.1 L646.0 168.7 L646.5 168.4 L647.0 168.0 L647.5 167.7 L648.0 167.3 L648.5 166.9 L649.0 166.5 L649.5 166.2 L650.0 165.8 L650.5 165.5 L651.0 165.2 L651.5 164.9 L652.0 164.6 L652.5 164.3 L653.0 164.1 L653.5 163.8 L654.0 163.6 L654.5 163.3 L655.0 163.1 L655.5 162.9 L656.0 162.7 L656.5 162.5 L657.0 162.3 L657.5 162.1 L658.0 161.9" fill="none" stroke="#CF3A4E" stroke-width="2" stroke-linejoin="round"/>
<path d="M359.0 200.0 L359.5 200.2 L360.0 200.3 L360.5 200.4 L361.0 200.6 L361.5 200.7 L362.0 200.8 L362.5 200.9 L363.0 200.9 L363.5 201.0 L364.0 201.1 L364.5 201.1 L365.0 201.2 L365.5 201.2 L366.0 201.2 L366.5 201.2 L367.0 201.3 L367.5 201.3 L368.0 201.3 L368.5 201.3 L369.0 201.3 L369.5 201.3 L370.0 201.3 L370.5 201.3 L371.0 201.3 L371.5 201.2 L372.0 201.1 L372.5 200.9 L373.0 200.7 L373.5 200.4 L374.0 200.1 L374.5 199.8 L375.0 199.5 L375.5 199.1 L376.0 198.7 L376.5 198.3 L377.0 197.9 L377.5 197.5 L378.0 197.2 L378.5 196.8 L379.0 196.3 L379.5 195.7 L380.0 195.1 L380.5 194.4 L381.0 193.7 L381.5 192.9 L382.0 192.1 L382.5 191.2 L383.0 190.4 L383.5 189.6 L384.0 188.7 L384.5 187.9 L385.0 187.2 L385.5 186.4 L386.0 185.7 L386.5 185.1 L387.0 184.5 L387.5 184.0 L388.0 183.6 L388.5 183.3 L389.0 183.0 L389.5 182.8 L390.0 182.5 L390.5 182.3 L391.0 182.1 L391.5 181.9 L392.0 181.8 L392.5 181.6 L393.0 181.5 L393.5 181.5 L394.0 181.5 L394.5 181.5 L395.0 181.5 L395.5 181.5 L396.0 181.5 L396.5 181.5 L397.0 181.5 L397.5 181.5 L398.0 181.5 L398.5 181.5 L399.0 181.5 L399.5 181.5 L400.0 181.5 L400.5 181.5 L401.0 181.6 L401.5 181.7 L402.0 181.8 L402.5 182.0 L403.0 182.2 L403.5 182.5 L404.0 182.7 L404.5 183.0 L405.0 183.2 L405.5 183.5 L406.0 183.7 L406.5 184.0 L407.0 184.2 L407.5 184.4 L408.0 184.7 L408.5 185.0 L409.0 185.3 L409.5 185.6 L410.0 185.9 L410.5 186.2 L411.0 186.6 L411.5 186.9 L412.0 187.2 L412.5 187.5 L413.0 187.8 L413.5 188.1 L414.0 188.4 L414.5 188.7 L415.0 188.9 L415.5 189.1 L416.0 189.3 L416.5 189.5 L417.0 189.6 L417.5 189.7 L418.0 189.7 L418.5 189.7 L419.0 189.7 L419.5 189.6 L420.0 189.5 L420.5 189.4 L421.0 189.3 L421.5 189.2 L422.0 189.1 L422.5 189.0 L423.0 188.8 L423.5 188.7 L424.0 188.6 L424.5 188.5 L425.0 188.5 L425.5 188.4 L426.0 188.4 L426.5 188.4 L427.0 188.5 L427.5 188.7 L428.0 188.8 L428.5 189.1 L429.0 189.3 L429.5 189.6 L430.0 190.0 L430.5 190.3 L431.0 190.7 L431.5 191.1 L432.0 191.4 L432.5 191.8 L433.0 192.2 L433.5 192.6 L434.0 192.9 L434.5 193.3 L435.0 193.6 L435.5 193.9 L436.0 194.2 L436.5 194.6 L437.0 194.9 L437.5 195.3 L438.0 195.6 L438.5 196.0 L439.0 196.4 L439.5 196.7 L440.0 197.1 L440.5 197.4 L441.0 197.8 L441.5 198.1 L442.0 198.4 L442.5 198.7 L443.0 199.0 L443.5 199.3 L444.0 199.5 L444.5 199.7 L445.0 200.0 L445.5 200.2 L446.0 200.4 L446.5 200.7 L447.0 200.9 L447.5 201.1 L448.0 201.4 L448.5 201.6 L449.0 201.8 L449.5 202.0 L450.0 202.2 L450.5 202.4 L451.0 202.5 L451.5 202.7 L452.0 202.8 L452.5 202.9 L453.0 203.0 L453.5 203.1 L454.0 203.2 L454.5 203.2 L455.0 203.2 L455.5 203.1 L456.0 203.0 L456.5 202.8 L457.0 202.5 L457.5 202.3 L458.0 202.1 L458.5 201.8 L459.0 201.6 L459.5 201.5 L460.0 201.4 L460.5 201.4 L461.0 201.5 L461.5 201.6 L462.0 201.7 L462.5 202.0 L463.0 202.2 L463.5 202.5 L464.0 202.8 L464.5 203.1 L465.0 203.5 L465.5 203.9 L466.0 204.3 L466.5 204.7 L467.0 205.1 L467.5 205.6 L468.0 206.0 L468.5 206.4 L469.0 206.8 L469.5 207.2 L470.0 207.6 L470.5 208.0 L471.0 208.3 L471.5 208.6 L472.0 208.9 L472.5 209.2 L473.0 209.4 L473.5 209.6 L474.0 209.8 L474.5 210.0 L475.0 210.2 L475.5 210.4 L476.0 210.7 L476.5 210.9 L477.0 211.1 L477.5 211.3 L478.0 211.5 L478.5 211.7 L479.0 211.9 L479.5 212.0 L480.0 212.2 L480.5 212.4 L481.0 212.6 L481.5 212.8 L482.0 212.9 L482.5 213.1 L483.0 213.3 L483.5 213.4 L484.0 213.6 L484.5 213.7 L485.0 213.9 L485.5 214.0 L486.0 214.2 L486.5 214.3 L487.0 214.4 L487.5 214.5 L488.0 214.6 L488.5 214.8 L489.0 214.9 L489.5 215.0 L490.0 215.0 L490.5 215.1 L491.0 215.2" fill="none" stroke="#E2A650" stroke-width="2" stroke-linejoin="round"/>
<path d="M497.0 212.8 L497.5 212.7 L498.0 212.6 L498.5 212.5 L499.0 212.4 L499.5 212.3 L500.0 212.2 L500.5 212.1 L501.0 212.0 L501.5 211.8 L502.0 211.7 L502.5 211.6 L503.0 211.5 L503.5 211.4 L504.0 211.3 L504.5 211.2 L505.0 211.1 L505.5 211.0 L506.0 210.8 L506.5 210.7 L507.0 210.6 L507.5 210.5 L508.0 210.4 L508.5 210.3 L509.0 210.2 L509.5 210.1 L510.0 209.9 L510.5 209.8 L511.0 209.7 L511.5 209.6 L512.0 209.5 L512.5 209.4 L513.0 209.3 L513.5 209.2 L514.0 209.0 L514.5 208.9 L515.0 208.8 L515.5 208.6 L516.0 208.5 L516.5 208.3 L517.0 208.2 L517.5 208.0 L518.0 207.9 L518.5 207.7 L519.0 207.5 L519.5 207.2 L520.0 206.9 L520.5 206.5 L521.0 206.2 L521.5 205.8 L522.0 205.5 L522.5 205.1 L523.0 204.8 L523.5 204.6 L524.0 204.3 L524.5 204.2 L525.0 204.0 L525.5 204.0 L526.0 204.0 L526.5 204.1 L527.0 204.1 L527.5 204.2 L528.0 204.4 L528.5 204.5 L529.0 204.6 L529.5 204.7 L530.0 204.8 L530.5 204.9 L531.0 204.9 L531.5 204.9 L532.0 204.8 L532.5 204.5 L533.0 204.2 L533.5 203.8 L534.0 203.3 L534.5 202.8 L535.0 202.2 L535.5 201.7 L536.0 201.2 L536.5 200.7 L537.0 200.3 L537.5 200.0 L538.0 199.8 L538.5 199.7 L539.0 199.8 L539.5 200.0 L540.0 200.5 L540.5 201.0 L541.0 201.6 L541.5 202.3 L542.0 203.0 L542.5 203.6 L543.0 204.1 L543.5 204.7 L544.0 205.3 L544.5 205.9 L545.0 206.5 L545.5 207.1 L546.0 207.7 L546.5 208.1 L547.0 208.3 L547.5 208.4 L548.0 208.5 L548.5 208.6 L549.0 208.6 L549.5 208.7 L550.0 208.7 L550.5 208.8 L551.0 208.8 L551.5 208.8 L552.0 208.9 L552.5 208.9 L553.0 208.9 L553.5 209.0 L554.0 209.0 L554.5 209.0 L555.0 209.0 L555.5 209.0 L556.0 209.0 L556.5 209.0 L557.0 208.9 L557.5 208.9 L558.0 208.8 L558.5 208.6 L559.0 208.5 L559.5 208.3 L560.0 208.1 L560.5 207.9 L561.0 207.7 L561.5 207.4 L562.0 207.1 L562.5 206.9 L563.0 206.6 L563.5 206.3 L564.0 206.0 L564.5 205.6 L565.0 205.3 L565.5 204.8 L566.0 204.3 L566.5 203.7 L567.0 203.0 L567.5 202.2 L568.0 201.4 L568.5 200.6 L569.0 199.6 L569.5 198.7 L570.0 197.8 L570.5 196.8 L571.0 195.8 L571.5 194.8 L572.0 193.9 L572.5 192.9 L573.0 191.8 L573.5 190.6 L574.0 189.4 L574.5 188.1 L575.0 186.9 L575.5 185.6 L576.0 184.4 L576.5 183.3 L577.0 182.2 L577.5 181.3 L578.0 180.5 L578.5 179.7 L579.0 178.8 L579.5 178.0 L580.0 177.2 L580.5 176.5 L581.0 175.8 L581.5 175.3 L582.0 174.8 L582.5 174.5 L583.0 174.3 L583.5 174.3 L584.0 174.5 L584.5 174.9 L585.0 175.4 L585.5 176.0 L586.0 176.6 L586.5 177.3 L587.0 178.0 L587.5 178.7 L588.0 179.5 L588.5 180.6 L589.0 181.7 L589.5 183.0 L590.0 184.3 L590.5 185.6 L591.0 186.9 L591.5 188.1 L592.0 189.2 L592.5 190.2 L593.0 191.0 L593.5 191.8 L594.0 192.7 L594.5 193.5 L595.0 194.3 L595.5 195.1 L596.0 195.9 L596.5 196.6 L597.0 197.2 L597.5 197.8 L598.0 198.2 L598.5 198.6 L599.0 198.9 L599.5 199.0 L600.0 199.0 L600.5 198.9 L601.0 198.6 L601.5 198.4 L602.0 198.1 L602.5 197.9 L603.0 197.6 L603.5 197.5 L604.0 197.5 L604.5 197.6 L605.0 197.8 L605.5 198.0 L606.0 198.3 L606.5 198.6 L607.0 198.9 L607.5 199.3 L608.0 199.6 L608.5 199.9 L609.0 200.2 L609.5 200.5 L610.0 200.9 L610.5 201.3 L611.0 201.6 L611.5 202.0 L612.0 202.4 L612.5 202.8 L613.0 203.2 L613.5 203.5 L614.0 203.9 L614.5 204.2 L615.0 204.6 L615.5 204.9 L616.0 205.1 L616.5 205.4 L617.0 205.7 L617.5 206.0 L618.0 206.2 L618.5 206.5 L619.0 206.8 L619.5 207.0 L620.0 207.2 L620.5 207.5 L621.0 207.6 L621.5 207.8 L622.0 207.9 L622.5 208.0 L623.0 208.0 L623.5 208.0 L624.0 207.9 L624.5 207.9 L625.0 207.8 L625.5 207.6 L626.0 207.5 L626.5 207.3 L627.0 207.1 L627.5 206.9 L628.0 206.7 L628.5 206.5 L629.0 206.2 L629.5 206.0 L630.0 205.7 L630.5 205.5 L631.0 205.2 L631.5 205.0 L632.0 204.7 L632.5 204.4 L633.0 204.2 L633.5 203.9 L634.0 203.6 L634.5 203.3 L635.0 203.0 L635.5 202.7 L636.0 202.3 L636.5 202.0 L637.0 201.6 L637.5 201.2 L638.0 200.8 L638.5 200.4 L639.0 200.0 L639.5 199.6 L640.0 199.2 L640.5 198.8 L641.0 198.4 L641.5 197.9 L642.0 197.5 L642.5 197.1 L643.0 196.7 L643.5 196.3 L644.0 195.9 L644.5 195.4 L645.0 195.0 L645.5 194.6 L646.0 194.1 L646.5 193.6 L647.0 193.2 L647.5 192.7 L648.0 192.2 L648.5 191.8 L649.0 191.3 L649.5 190.9 L650.0 190.4 L650.5 190.0 L651.0 189.6 L651.5 189.2 L652.0 188.9 L652.5 188.5 L653.0 188.1 L653.5 187.8 L654.0 187.4 L654.5 187.1 L655.0 186.8 L655.5 186.5 L656.0 186.2 L656.5 185.9 L657.0 185.6 L657.5 185.3 L658.0 185.0" fill="none" stroke="#E2A650" stroke-width="2" stroke-linejoin="round"/>
<path d="M359.0 248.5 L359.5 248.2 L360.0 247.8 L360.5 247.5 L361.0 247.1 L361.5 246.7 L362.0 246.3 L362.5 245.9 L363.0 245.5 L363.5 245.1 L364.0 244.6 L364.5 244.2 L365.0 243.7 L365.5 243.2 L366.0 242.7 L366.5 242.2 L367.0 241.7 L367.5 241.2 L368.0 240.7 L368.5 240.2 L369.0 239.6 L369.5 239.0 L370.0 238.5 L370.5 237.9 L371.0 237.3 L371.5 236.7 L372.0 236.0 L372.5 235.4 L373.0 234.7 L373.5 234.0 L374.0 233.4 L374.5 232.7 L375.0 231.9 L375.5 231.2 L376.0 230.5 L376.5 229.7 L377.0 229.0 L377.5 228.2 L378.0 227.4 L378.5 226.6 L379.0 225.8 L379.5 224.9 L380.0 224.1 L380.5 223.2 L381.0 222.3 L381.5 221.4 L382.0 220.4 L382.5 219.4 L383.0 218.3 L383.5 217.1 L384.0 216.0 L384.5 214.8 L385.0 213.7 L385.5 212.5 L386.0 211.4 L386.5 210.2 L387.0 209.1 L387.5 208.1 L388.0 206.8 L388.5 205.5 L389.0 204.2 L389.5 202.9 L390.0 201.9 L390.5 201.1 L391.0 200.8 L391.5 200.8 L392.0 200.8 L392.5 200.9 L393.0 201.0 L393.5 201.0 L394.0 201.1 L394.5 201.2 L395.0 201.3 L395.5 201.4 L396.0 201.5 L396.5 201.5 L397.0 201.6 L397.5 201.6 L398.0 201.6 L398.5 201.6 L399.0 201.6 L399.5 201.6 L400.0 201.6 L400.5 201.6 L401.0 201.6 L401.5 201.6 L402.0 201.6 L402.5 201.7 L403.0 201.9 L403.5 202.1 L404.0 202.3 L404.5 202.6 L405.0 202.9 L405.5 203.3 L406.0 203.6 L406.5 203.9 L407.0 204.3 L407.5 204.6 L408.0 204.9 L408.5 205.2 L409.0 205.4 L409.5 205.6 L410.0 205.8 L410.5 206.1 L411.0 206.3 L411.5 206.5 L412.0 206.7 L412.5 206.9 L413.0 207.2 L413.5 207.4 L414.0 207.6 L414.5 207.8 L415.0 207.9 L415.5 208.1 L416.0 208.2 L416.5 208.3 L417.0 208.4 L417.5 208.5 L418.0 208.5 L418.5 208.5 L419.0 208.5 L419.5 208.4 L420.0 208.3 L420.5 208.2 L421.0 208.1 L421.5 208.0 L422.0 207.9 L422.5 207.8 L423.0 207.7 L423.5 207.6 L424.0 207.5 L424.5 207.4 L425.0 207.4 L425.5 207.3 L426.0 207.3 L426.5 207.3 L427.0 207.4 L427.5 207.6 L428.0 207.8 L428.5 208.1 L429.0 208.4 L429.5 208.7 L430.0 209.1 L430.5 209.5 L431.0 209.9 L431.5 210.3 L432.0 210.8 L432.5 211.2 L433.0 211.6 L433.5 212.0 L434.0 212.5 L434.5 212.8 L435.0 213.2 L435.5 213.5 L436.0 213.9 L436.5 214.3 L437.0 214.6 L437.5 215.0 L438.0 215.4 L438.5 215.8 L439.0 216.1 L439.5 216.5 L440.0 216.9 L440.5 217.3 L441.0 217.6 L441.5 218.0 L442.0 218.4 L442.5 218.7 L443.0 219.0 L443.5 219.4 L444.0 219.7 L444.5 220.0 L445.0 220.3 L445.5 220.6 L446.0 221.0 L446.5 221.3 L447.0 221.6 L447.5 222.0 L448.0 222.3 L448.5 222.7 L449.0 223.0 L449.5 223.3 L450.0 223.6 L450.5 223.9 L451.0 224.1 L451.5 224.4 L452.0 224.6 L452.5 224.8 L453.0 224.9 L453.5 225.1 L454.0 225.1 L454.5 225.2 L455.0 225.2 L455.5 225.0 L456.0 224.7 L456.5 224.2 L457.0 223.6 L457.5 223.0 L458.0 222.5 L458.5 221.9 L459.0 221.4 L459.5 221.1 L460.0 220.9 L460.5 220.9 L461.0 221.2 L461.5 221.6 L462.0 222.1 L462.5 222.8 L463.0 223.5 L463.5 224.3 L464.0 225.2 L464.5 226.0 L465.0 226.7 L465.5 227.4 L466.0 228.0 L466.5 228.5 L467.0 229.0 L467.5 229.5 L468.0 230.0 L468.5 230.5 L469.0 231.0 L469.5 231.4 L470.0 231.9 L470.5 232.3 L471.0 232.7 L471.5 233.1 L472.0 233.5 L472.5 233.9 L473.0 234.3 L473.5 234.7 L474.0 235.1 L474.5 235.4 L475.0 235.8 L475.5 236.2 L476.0 236.6 L476.5 236.9 L477.0 237.3 L477.5 237.7 L478.0 238.0 L478.5 238.4 L479.0 238.7 L479.5 239.1 L480.0 239.4 L480.5 239.8 L481.0 240.1 L481.5 240.4 L482.0 240.8 L482.5 241.1 L483.0 241.4 L483.5 241.7 L484.0 242.0 L484.5 242.3 L485.0 242.6 L485.5 242.9 L486.0 243.2 L486.5 243.5 L487.0 243.7 L487.5 244.0 L488.0 244.3 L488.5 244.5 L489.0 244.8 L489.5 245.0 L490.0 245.3 L490.5 245.5 L491.0 245.7" fill="none" stroke="#151515" stroke-width="2" stroke-linejoin="round"/>
<path d="M497.7 245.0 L498.2 244.9 L498.7 244.9 L499.2 244.8 L499.7 244.7 L500.2 244.6 L500.7 244.5 L501.2 244.5 L501.7 244.4 L502.2 244.3 L502.7 244.2 L503.2 244.1 L503.7 244.0 L504.2 243.9 L504.7 243.8 L505.2 243.7 L505.7 243.7 L506.2 243.6 L506.7 243.5 L507.2 243.3 L507.7 243.2 L508.2 243.1 L508.7 243.0 L509.2 242.9 L509.7 242.8 L510.2 242.7 L510.7 242.6 L511.2 242.5 L511.7 242.4 L512.2 242.2 L512.7 242.1 L513.2 241.9 L513.7 241.7 L514.2 241.6 L514.7 241.4 L515.2 241.2 L515.7 241.0 L516.2 240.8 L516.7 240.6 L517.2 240.4 L517.7 240.2 L518.2 240.0 L518.7 239.9 L519.2 239.7 L519.7 239.5 L520.2 239.3 L520.7 239.2 L521.2 239.0 L521.7 238.9 L522.2 238.7 L522.7 238.6 L523.2 238.5 L523.7 238.4 L524.2 238.3 L524.7 238.3 L525.2 238.2 L525.7 238.2 L526.2 238.2 L526.7 238.2 L527.2 238.2 L527.7 238.3 L528.2 238.3 L528.7 238.3 L529.2 238.4 L529.7 238.5 L530.2 238.6 L530.7 238.6 L531.2 238.7 L531.7 238.8 L532.2 238.9 L532.7 239.0 L533.2 239.2 L533.7 239.3 L534.2 239.4 L534.7 239.5 L535.2 239.7 L535.7 239.8 L536.2 240.0 L536.7 240.1 L537.2 240.3 L537.7 240.4 L538.2 240.6 L538.7 240.7 L539.2 240.9 L539.7 241.1 L540.2 241.3 L540.7 241.6 L541.2 242.0 L541.7 242.3 L542.2 242.7 L542.7 243.1 L543.2 243.4 L543.7 243.8 L544.2 244.1 L544.7 244.4 L545.2 244.6 L545.7 244.8 L546.2 244.9 L546.7 245.0 L547.2 245.0 L547.7 245.0 L548.2 244.9 L548.7 244.8 L549.2 244.7 L549.7 244.6 L550.2 244.4 L550.7 244.3 L551.2 244.1 L551.7 243.9 L552.2 243.7 L552.7 243.5 L553.2 243.2 L553.7 243.0 L554.2 242.8 L554.7 242.5 L555.2 242.3 L555.7 242.0 L556.2 241.8 L556.7 241.5 L557.2 241.3 L557.7 241.0 L558.2 240.7 L558.7 240.4 L559.2 240.1 L559.7 239.8 L560.2 239.4 L560.7 239.1 L561.2 238.7 L561.7 238.2 L562.2 237.8 L562.7 237.3 L563.2 236.8 L563.7 236.2 L564.2 235.6 L564.7 234.8 L565.2 234.1 L565.7 233.2 L566.2 232.4 L566.7 231.4 L567.2 230.5 L567.7 229.5 L568.2 228.5 L568.7 227.4 L569.2 226.4 L569.7 225.2 L570.2 224.0 L570.7 222.7 L571.2 221.4 L571.7 219.9 L572.2 218.5 L572.7 217.0 L573.2 215.5 L573.7 213.9 L574.2 212.4 L574.7 210.9 L575.2 209.4 L575.7 207.9 L576.2 206.4 L576.7 204.7 L577.2 203.0 L577.7 201.3 L578.2 199.7 L578.7 198.4 L579.2 197.4 L579.7 196.6 L580.2 195.8 L580.7 195.1 L581.2 194.5 L581.7 194.0 L582.2 193.7 L582.7 193.6 L583.2 193.8 L583.7 194.2 L584.2 194.7 L584.7 195.4 L585.2 196.2 L585.7 196.9 L586.2 197.7 L586.7 198.6 L587.2 199.5 L587.7 200.6 L588.2 201.7 L588.7 203.0 L589.2 204.2 L589.7 205.5 L590.2 206.8 L590.7 208.1 L591.2 209.6 L591.7 211.1 L592.2 212.8 L592.7 214.5 L593.2 216.2 L593.7 217.9 L594.2 219.6 L594.7 221.2 L595.2 222.7 L595.7 224.0 L596.2 225.2 L596.7 226.3 L597.2 227.4 L597.7 228.4 L598.2 229.3 L598.7 230.2 L599.2 231.0 L599.7 231.8 L600.2 232.6 L600.7 233.4 L601.2 234.1 L601.7 234.8 L602.2 235.4 L602.7 236.1 L603.2 236.6 L603.7 237.2 L604.2 237.7 L604.7 238.2 L605.2 238.6 L605.7 239.1 L606.2 239.5 L606.7 239.9 L607.2 240.2 L607.7 240.5 L608.2 240.8 L608.7 241.1 L609.2 241.3 L609.7 241.5 L610.2 241.8 L610.7 242.0 L611.2 242.2 L611.7 242.4 L612.2 242.5 L612.7 242.7 L613.2 242.9 L613.7 243.0 L614.2 243.2 L614.7 243.3 L615.2 243.5 L615.7 243.6 L616.2 243.7 L616.7 243.9 L617.2 244.0 L617.7 244.1 L618.2 244.2 L618.7 244.4 L619.2 244.5 L619.7 244.6 L620.2 244.7 L620.7 244.8 L621.2 244.9 L621.7 245.0 L622.2 245.1 L622.7 245.1 L623.2 245.2 L623.7 245.2 L624.2 245.2 L624.7 245.2 L625.2 245.1 L625.7 245.1 L626.2 245.0 L626.7 244.9 L627.2 244.8 L627.7 244.7 L628.2 244.5 L628.7 244.4 L629.2 244.2 L629.7 244.0 L630.2 243.8 L630.7 243.7 L631.2 243.5 L631.7 243.3 L632.2 243.1 L632.7 243.0 L633.2 242.8 L633.7 242.6 L634.2 242.3 L634.7 242.1 L635.2 241.9 L635.7 241.6 L636.2 241.4 L636.7 241.1 L637.2 240.8 L637.7 240.5 L638.2 240.2 L638.7 239.9 L639.2 239.6 L639.7 239.2 L640.2 238.8 L640.7 238.4 L641.2 238.0 L641.7 237.5 L642.2 237.0 L642.7 236.6 L643.2 236.1 L643.7 235.6 L644.2 235.1 L644.7 234.6 L645.2 234.1 L645.7 233.5 L646.2 232.9 L646.7 232.4 L647.2 231.8 L647.7 231.2 L648.2 230.6 L648.7 230.0 L649.2 229.4 L649.7 228.8 L650.2 228.2 L650.7 227.7 L651.2 227.1 L651.7 226.5 L652.2 226.0 L652.7 225.5 L653.2 225.0 L653.7 224.5 L654.2 224.0 L654.7 223.5 L655.2 223.1 L655.7 222.6 L656.2 222.1 L656.7 221.7 L657.2 221.2 L657.7 220.8 L658.0 220.5" fill="none" stroke="#151515" stroke-width="2" stroke-linejoin="round"/>
<text transform="translate(388.0 64.4) scale(0.900 1)" style="font-family:'Liberation Serif',serif;font-size:12.5px;font-weight:normal" text-anchor="start" fill="#222" >3234 3038</text>
<text transform="translate(454.0 72.2) scale(0.870 1)" style="font-family:'Liberation Serif',serif;font-size:12.5px;font-weight:normal" text-anchor="start" fill="#222" >2814</text>
<text transform="translate(513.8 54.3) scale(0.860 1)" style="font-family:'Liberation Serif',serif;font-size:12.8px;font-weight:normal" text-anchor="start" fill="#222" >1677</text>
<text transform="translate(535.2 73.7) scale(0.860 1)" style="font-family:'Liberation Serif',serif;font-size:12.8px;font-weight:normal" text-anchor="start" fill="#2F4E9A" >1607</text>
<text transform="translate(574.5 49.7) scale(0.860 1)" style="font-family:'Liberation Serif',serif;font-size:12.8px;font-weight:normal" text-anchor="start" fill="#222" >1425</text>
<text transform="translate(604.8 70.2) scale(0.860 1)" style="font-family:'Liberation Serif',serif;font-size:12.8px;font-weight:normal" text-anchor="start" fill="#2F4E9A" >1235</text>
<text transform="translate(420.5 40.0) scale(0.950 1)" style="font-family:'Liberation Serif',serif;font-size:12.2px;font-weight:bold" text-anchor="start" fill="#111" ><tspan font-size="11.5px" dy="-3.5">v</tspan><tspan font-size="12.2px" dy="3.5">NH4</tspan><tspan font-size="13.5px" dy="-6.5">+</tspan></text>
<text transform="translate(505.5 35.5) scale(0.980 1)" style="font-family:'Liberation Serif',serif;font-size:11.0px;font-weight:bold" text-anchor="start" fill="#111" ><tspan font-size="11.0px">&#948;</tspan><tspan font-size="9.5px" dy="3.0">as</tspan><tspan font-size="11.0px" dy="-3.0">NH</tspan><tspan font-size="9.5px" dy="3.0">4</tspan><tspan font-size="10.0px" dy="-7.2">+</tspan></text>
<text transform="translate(572.0 35.5) scale(0.980 1)" style="font-family:'Liberation Serif',serif;font-size:11.0px;font-weight:bold" text-anchor="start" fill="#111" ><tspan font-size="11.0px">&#948;</tspan><tspan font-size="9.5px" dy="3.0">s</tspan><tspan font-size="11.0px" dy="-3.0">NH</tspan><tspan font-size="9.5px" dy="3.0">4</tspan><tspan font-size="10.0px" dy="-7.2">+</tspan></text>
<text transform="translate(536.5 261.0) scale(0.930 1)" style="font-family:'Liberation Serif',serif;font-size:11.5px;font-weight:bold" text-anchor="start" fill="#2F4E9A" ><tspan font-size="11.5px">&#948;</tspan><tspan font-size="8.5px" dy="2.0">as</tspan><tspan font-size="11.5px" dy="-2.0">NH</tspan><tspan font-size="9.0px" dy="2.2">3</tspan></text>
<text transform="translate(602.2 261.0) scale(0.930 1)" style="font-family:'Liberation Serif',serif;font-size:11.5px;font-weight:bold" text-anchor="start" fill="#2F4E9A" ><tspan font-size="11.5px">&#948;</tspan><tspan font-size="8.5px" dy="2.0">s</tspan><tspan font-size="11.5px" dy="-2.0">NH</tspan><tspan font-size="9.0px" dy="2.2">3</tspan></text>
<text transform="translate(623.8 54.5) scale(0.880 1)" style="font-family:'Liberation Serif',serif;font-size:7.8px;font-weight:bold" text-anchor="start" fill="#111" >HSiW/TiO<tspan dy="1.6" font-size="72%">2</tspan></text>
<text transform="translate(622.6 93.0) scale(0.880 1)" style="font-family:'Liberation Serif',serif;font-size:7.8px;font-weight:bold" text-anchor="start" fill="#111" >HSiW/SiO<tspan dy="1.6" font-size="72%">2</tspan></text>
<text transform="translate(622.4 140.7) scale(0.880 1)" style="font-family:'Liberation Serif',serif;font-size:7.8px;font-weight:bold" text-anchor="start" fill="#111" >HSiW/ZrO<tspan dy="1.6" font-size="72%">2</tspan></text>
<text transform="translate(612.0 188.0) scale(0.880 1)" style="font-family:'Liberation Serif',serif;font-size:7.8px;font-weight:bold" text-anchor="start" fill="#111" >HSiW/Al<tspan dy="1.6" font-size="72%">2</tspan><tspan dy="-1.6">O</tspan><tspan dy="1.6" font-size="72%">3</tspan></text>
<text transform="translate(636.3 252.7) scale(0.880 1)" style="font-family:'Liberation Serif',serif;font-size:7.8px;font-weight:bold" text-anchor="start" fill="#111" >HSiW</text>
</svg>
</body></html>
